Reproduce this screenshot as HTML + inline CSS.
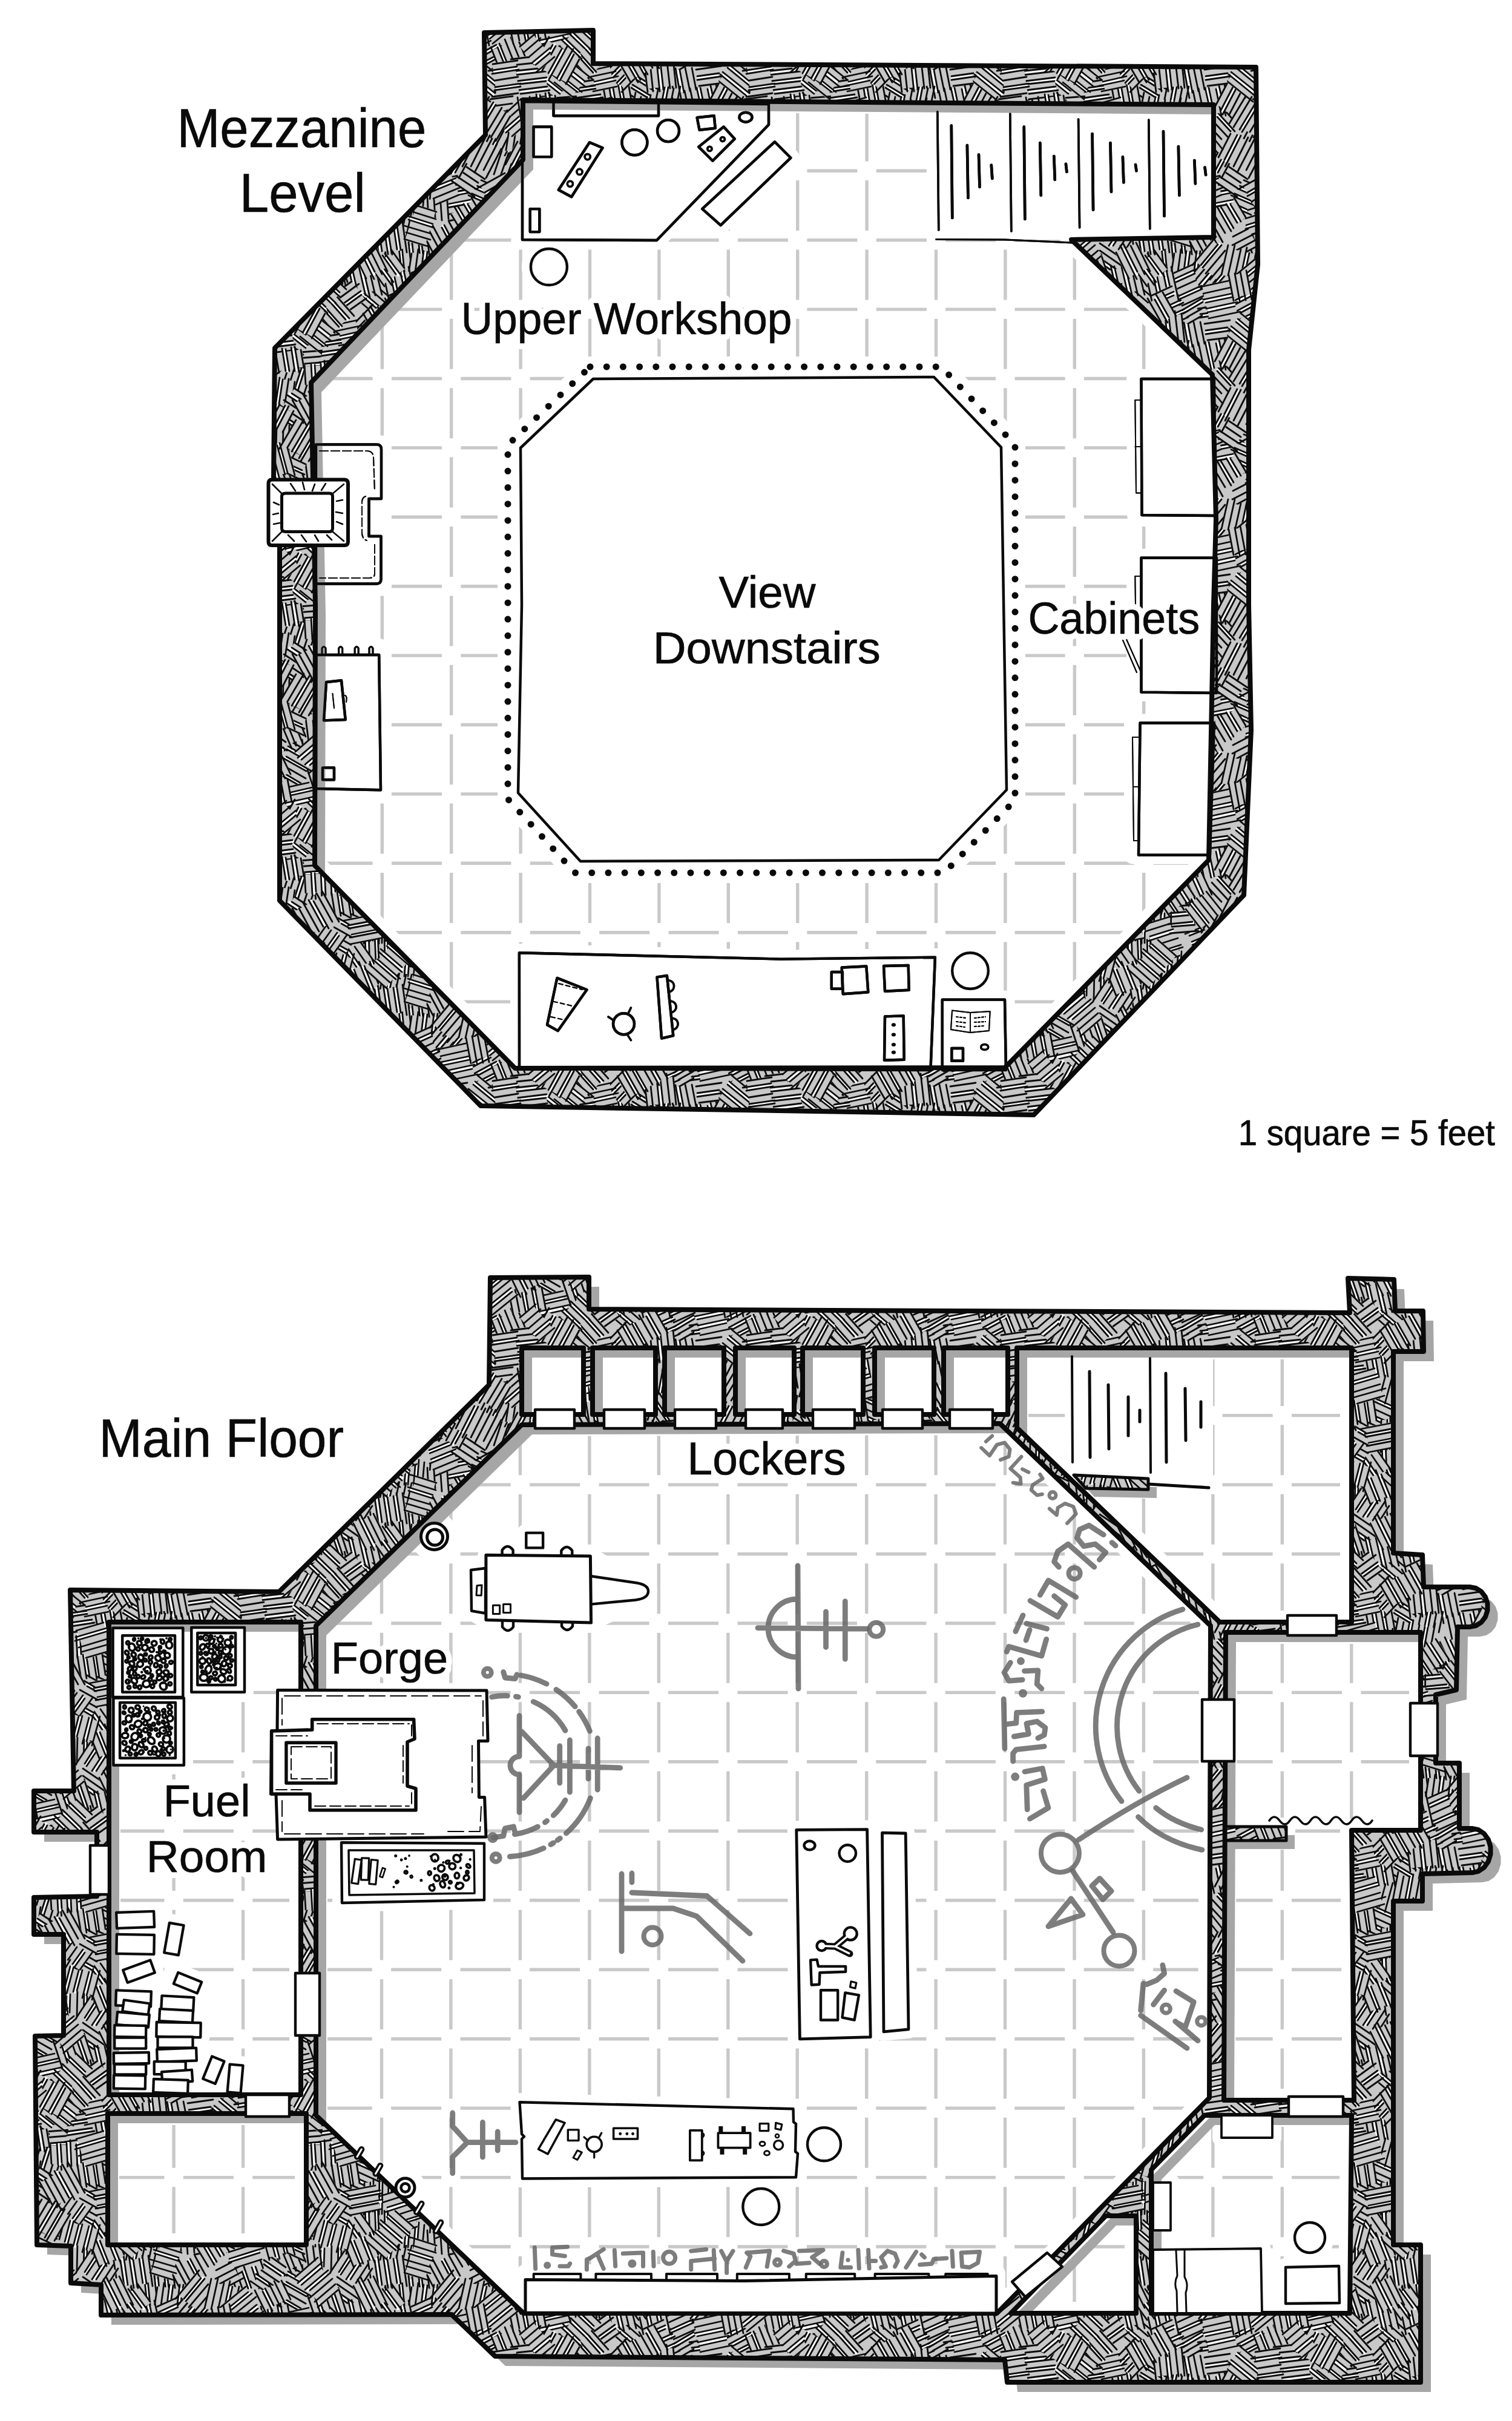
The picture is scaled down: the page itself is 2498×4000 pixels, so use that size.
<!DOCTYPE html><html><head><meta charset="utf-8"><title>Forge map</title><style>html,body{margin:0;padding:0;background:#fff}svg{display:block}text{font-family:"Liberation Sans", sans-serif;fill:#0a0a0a;stroke:#0a0a0a;stroke-width:.7px}text.h{paint-order:stroke}.f{fill:#fff;stroke:#0a0a0a;stroke-width:4.4;stroke-linejoin:round;stroke-linecap:round}.l{fill:none;stroke:#0a0a0a;stroke-width:3.5;stroke-linejoin:round;stroke-linecap:round}.t{fill:none;stroke:#0a0a0a;stroke-width:2;stroke-linejoin:round;stroke-linecap:round}.k{fill:#0a0a0a;stroke:none}.nf *{fill:none!important}.g{fill:none;stroke:#666;stroke-opacity:.85;stroke-width:8;stroke-linejoin:round;stroke-linecap:round}.halo{fill:#fff;stroke:#fff;stroke-width:30;stroke-linejoin:round}</style></head><body>
<svg width="2498" height="4000" viewBox="0 0 2498 4000">
<rect width="2498" height="4000" fill="#fff"/>
<defs>
<pattern id="hatch" width="420" height="420" patternUnits="userSpaceOnUse"><rect width="420" height="420" fill="#c8c8c8"/><g fill="none"><polygon points="109,197 73,199 68,134 104,132" fill="#c8c8c8"/><path d="M110 181l-38 3M104 146l-38 3" stroke="#fff" stroke-width="4.0"/><path d="M110 195l-42 3M115 184l-44 3M109 179l-37 3M109 169l-37 3M115 159l-53 4M110 148l-47 3M106 143l-43 3M103 133l-43 3" stroke="#0c0c0c" stroke-width="2.8" stroke-linecap="round"/><polygon points="196,46 229,74 203,104 170,76" fill="#c8c8c8"/><path d="M176 63l39 33" stroke="#fff" stroke-width="4.0"/><path d="M189 42l43 36M182 50l45 39M175 59l41 35M178 69l33 28M172 76l35 30" stroke="#0c0c0c" stroke-width="2.8" stroke-linecap="round"/><polygon points="112,204 100,244 43,226 55,186" fill="#c8c8c8"/><path d="M81 190l-14 45" stroke="#fff" stroke-width="4.0"/><path d="M114 196l-17 53M102 202l-15 47M94 194l-16 51M83 191l-13 41M78 188l-17 53M67 186l-15 48M57 185l-13 42" stroke="#0c0c0c" stroke-width="2.8" stroke-linecap="round"/><polygon points="183,201 220,218 197,269 160,252" fill="#c8c8c8"/><path d="M177 215l39 18M164 239l42 19" stroke="#fff" stroke-width="4.0"/><path d="M178 201l50 22M171 210l49 22M169 215l49 22M166 226l44 20M168 238l42 19M163 242l42 19M160 250l38 17" stroke="#0c0c0c" stroke-width="2.8" stroke-linecap="round"/><polygon points="350,173 372,196 336,230 314,206" fill="#c8c8c8"/><path d="M331 189l23 25" stroke="#fff" stroke-width="4.0"/><path d="M347 171l26 29M342 181l21 23M328 182l32 35M331 193l22 24M322 198l27 29M312 202l26 28" stroke="#0c0c0c" stroke-width="2.8" stroke-linecap="round"/><polygon points="26,235 6,273 -53,242 -34,205" fill="#c8c8c8"/><path d="M12 229l-21 41M-10 214l-22 43" stroke="#fff" stroke-width="4.0"/><path d="M25 233l-20 39M17 224l-22 43M11 224l-22 43M1 223l-19 38M-7 214l-22 42M-10 208l-22 43M-23 208l-20 40M-31 202l-25 48" stroke="#0c0c0c" stroke-width="2.8" stroke-linecap="round"/><polygon points="446,235 426,273 367,242 386,205" fill="#c8c8c8"/><path d="M432 229l-21 41M410 214l-22 43" stroke="#fff" stroke-width="4.0"/><path d="M445 233l-20 39M437 224l-22 43M431 224l-22 43M421 223l-19 38M413 214l-22 42M410 208l-22 43M397 208l-20 40M389 202l-25 48" stroke="#0c0c0c" stroke-width="2.8" stroke-linecap="round"/><polygon points="324,-53 341,-21 297,3 280,-29" fill="#c8c8c8"/><path d="M311 -48l20 37" stroke="#fff" stroke-width="4.0"/><path d="M322 -53l18 33M314 -48l21 40M310 -44l16 30M295 -47l24 45M289 -39l20 37M280 -31l20 37" stroke="#0c0c0c" stroke-width="2.8" stroke-linecap="round"/><polygon points="324,367 341,399 297,423 280,391" fill="#c8c8c8"/><path d="M311 372l20 37" stroke="#fff" stroke-width="4.0"/><path d="M322 367l18 33M314 372l21 40M310 376l16 30M295 373l24 45M289 381l20 37M280 389l20 37" stroke="#0c0c0c" stroke-width="2.8" stroke-linecap="round"/><polygon points="224,117 249,133 219,180 194,165" fill="#c8c8c8"/><path d="M213 129l29 18M206 144l27 17" stroke="#fff" stroke-width="4.0"/><path d="M220 116l29 18M216 128l32 20M212 132l27 17M205 140l28 17M203 145l31 19M197 154l30 19M196 164l25 16" stroke="#0c0c0c" stroke-width="2.8" stroke-linecap="round"/><polygon points="168,203 175,247 105,258 98,214" fill="#c8c8c8"/><path d="M154 201l7 48M138 203l7 48M113 210l7 47" stroke="#fff" stroke-width="4.0"/><path d="M167 201l7 45M156 198l8 54M152 204l8 50M141 205l7 46M135 200l8 53M126 205l8 49M116 212l7 48M111 213l7 48M100 214l8 51" stroke="#0c0c0c" stroke-width="2.8" stroke-linecap="round"/><polygon points="81,94 109,117 63,174 36,152" fill="#c8c8c8"/><path d="M73 106l29 23M52 125l34 27M41 138l31 24" stroke="#fff" stroke-width="4.0"/><path d="M79 94l32 26M74 104l27 21M72 109l32 25M63 116l32 25M58 126l29 23M51 128l34 27M45 137l36 29M44 144l26 21M32 148l38 30" stroke="#0c0c0c" stroke-width="2.8" stroke-linecap="round"/><polygon points="276,352 269,389 206,375 214,339" fill="#c8c8c8"/><path d="M264 346l-8 41M228 340l-8 39" stroke="#fff" stroke-width="4.0"/><path d="M275 352l-7 35M267 347l-9 43M261 346l-10 46M253 340l-10 48M242 337l-10 48M231 342l-8 36M225 341l-8 40M215 340l-9 44" stroke="#0c0c0c" stroke-width="2.8" stroke-linecap="round"/><polygon points="293,319 290,352 236,347 239,314" fill="#c8c8c8"/><path d="M269 312l-3 41M254 313l-3 36" stroke="#fff" stroke-width="4.0"/><path d="M291 319l-3 41M281 316l-3 34M272 312l-3 41M267 310l-4 47M257 315l-3 38M251 317l-3 36M241 308l-4 46" stroke="#0c0c0c" stroke-width="2.8" stroke-linecap="round"/><polygon points="288,-14 293,30 220,38 215,-7" fill="#c8c8c8"/><path d="M275 -12l5 44M259 -14l5 48M242 -13l5 49" stroke="#fff" stroke-width="4.0"/><path d="M287 -19l6 55M277 -16l5 49M272 -16l5 52M261 -18l5 50M255 -20l6 55M244 -13l5 51M239 -11l6 55M227 -13l5 51M216 -10l5 48" stroke="#0c0c0c" stroke-width="2.8" stroke-linecap="round"/><polygon points="288,406 293,450 220,458 215,413" fill="#c8c8c8"/><path d="M275 408l5 44M259 406l5 48M242 407l5 49" stroke="#fff" stroke-width="4.0"/><path d="M287 401l6 55M277 404l5 49M272 404l5 52M261 402l5 50M255 400l6 55M244 407l5 51M239 409l6 55M227 407l5 51M216 410l5 48" stroke="#0c0c0c" stroke-width="2.8" stroke-linecap="round"/><polygon points="328,7 324,38 255,29 259,-3" fill="#c8c8c8"/><path d="M314 4l-5 35M299 0l-5 37M283 -4l-5 38" stroke="#fff" stroke-width="4.0"/><path d="M327 3l-5 40M316 5l-4 31M312 -1l-6 43M303 -5l-6 41M297 -5l-5 40M286 -4l-6 44M280 -5l-5 40M271 -8l-5 37M260 -1l-5 33" stroke="#0c0c0c" stroke-width="2.8" stroke-linecap="round"/><polygon points="328,427 324,458 255,449 259,417" fill="#c8c8c8"/><path d="M314 424l-5 35M299 420l-5 37M283 416l-5 38" stroke="#fff" stroke-width="4.0"/><path d="M327 423l-5 40M316 425l-4 31M312 419l-6 43M303 415l-6 41M297 415l-5 40M286 416l-6 44M280 415l-5 40M271 412l-5 37M260 419l-5 33" stroke="#0c0c0c" stroke-width="2.8" stroke-linecap="round"/><polygon points="144,-15 180,10 158,43 121,17" fill="#c8c8c8"/><path d="M129 4l37 26" stroke="#fff" stroke-width="4.0"/><path d="M137 -18l44 30M137 -6l36 25M125 -2l48 33M122 3l46 32M122 16l35 24" stroke="#0c0c0c" stroke-width="2.8" stroke-linecap="round"/><polygon points="144,405 180,430 158,463 121,437" fill="#c8c8c8"/><path d="M129 424l37 26" stroke="#fff" stroke-width="4.0"/><path d="M137 402l44 30M137 414l36 25M125 418l48 33M122 423l46 32M122 436l35 24" stroke="#0c0c0c" stroke-width="2.8" stroke-linecap="round"/><polygon points="198,132 205,171 161,179 154,139" fill="#c8c8c8"/><path d="M183 135l8 42M168 134l8 46" stroke="#fff" stroke-width="4.0"/><path d="M197 132l8 45M185 128l8 47M179 127l9 49M170 129l8 46M165 135l7 41M155 135l9 49" stroke="#0c0c0c" stroke-width="2.8" stroke-linecap="round"/><polygon points="232,283 234,329 173,331 171,285" fill="#c8c8c8"/><path d="M218 284l2 50M201 284l2 48M186 281l2 53" stroke="#fff" stroke-width="4.0"/><path d="M231 275l2 60M220 284l2 54M215 284l1 44M204 275l2 60M199 283l2 47M189 281l2 57M183 285l2 54M172 279l2 50" stroke="#0c0c0c" stroke-width="2.8" stroke-linecap="round"/><polygon points="315,98 286,115 260,70 289,53" fill="#c8c8c8"/><path d="M306 76l-32 19M298 63l-35 20" stroke="#fff" stroke-width="4.0"/><path d="M319 94l-40 23M311 87l-30 17M307 79l-37 22M306 73l-37 22M302 64l-37 22M297 61l-31 18M295 51l-40 24" stroke="#0c0c0c" stroke-width="2.8" stroke-linecap="round"/><polygon points="200,16 210,58 154,71 144,29" fill="#c8c8c8"/><path d="M176 22l10 42M160 25l10 43" stroke="#fff" stroke-width="4.0"/><path d="M198 14l13 53M188 17l12 51M178 15l13 56M173 21l11 47M161 20l12 52M155 19l13 57M144 22l13 55" stroke="#0c0c0c" stroke-width="2.8" stroke-linecap="round"/><polygon points="200,436 210,478 154,491 144,449" fill="#c8c8c8"/><path d="M176 442l10 42M160 445l10 43" stroke="#fff" stroke-width="4.0"/><path d="M198 434l13 53M188 437l12 51M178 435l13 56M173 441l11 47M161 440l12 52M155 439l13 57M144 442l13 55" stroke="#0c0c0c" stroke-width="2.8" stroke-linecap="round"/><polygon points="157,358 156,387 99,386 100,356" fill="#c8c8c8"/><path d="M141 353l-1 36M113 354l-1 33" stroke="#fff" stroke-width="4.0"/><path d="M156 356l-1 35M144 359l-1 29M139 352l-1 38M128 348l-1 43M116 355l-1 30M110 358l-1 33M101 349l-1 35" stroke="#0c0c0c" stroke-width="2.8" stroke-linecap="round"/><polygon points="353,43 322,79 280,43 310,7" fill="#c8c8c8"/><path d="M342 32l-32 37M331 19l-34 40" stroke="#fff" stroke-width="4.0"/><path d="M352 42l-31 37M348 30l-37 44M342 27l-33 39M333 22l-35 42M332 14l-41 48M318 15l-31 37M316 2l-34 41" stroke="#0c0c0c" stroke-width="2.8" stroke-linecap="round"/><polygon points="353,463 322,499 280,463 310,427" fill="#c8c8c8"/><path d="M342 452l-32 37M331 439l-34 40" stroke="#fff" stroke-width="4.0"/><path d="M352 462l-31 37M348 450l-37 44M342 447l-33 39M333 442l-35 42M332 434l-41 48M318 435l-31 37M316 422l-34 41" stroke="#0c0c0c" stroke-width="2.8" stroke-linecap="round"/><polygon points="69,210 61,259 -5,249 2,200" fill="#c8c8c8"/><path d="M44 206l-7 49M27 204l-8 53" stroke="#fff" stroke-width="4.0"/><path d="M67 211l-7 49M57 206l-8 52M47 207l-8 53M42 204l-9 60M31 198l-9 60M25 202l-9 58M14 202l-8 56M3 202l-7 46" stroke="#0c0c0c" stroke-width="2.8" stroke-linecap="round"/><polygon points="489,210 481,259 415,249 422,200" fill="#c8c8c8"/><path d="M464 206l-7 49M447 204l-8 53" stroke="#fff" stroke-width="4.0"/><path d="M487 211l-7 49M477 206l-8 52M467 207l-8 53M462 204l-9 60M451 198l-9 60M445 202l-9 58M434 202l-8 56M423 202l-7 46" stroke="#0c0c0c" stroke-width="2.8" stroke-linecap="round"/><polygon points="13,374 -33,388 -48,338 -3,324" fill="#c8c8c8"/><path d="M8 359l-48 15" stroke="#fff" stroke-width="4.0"/><path d="M12 373l-53 17M9 362l-51 16M16 354l-57 18M6 346l-48 15M7 333l-55 17M-3 325l-45 14" stroke="#0c0c0c" stroke-width="2.8" stroke-linecap="round"/><polygon points="433,374 387,388 372,338 417,324" fill="#c8c8c8"/><path d="M428 359l-48 15" stroke="#fff" stroke-width="4.0"/><path d="M432 373l-53 17M429 362l-51 16M436 354l-57 18M426 346l-48 15M427 333l-55 17M417 325l-45 14" stroke="#0c0c0c" stroke-width="2.8" stroke-linecap="round"/><polygon points="247,-51 253,-10 193,-1 187,-42" fill="#c8c8c8"/><path d="M233 -48l6 42M217 -47l6 41M202 -49l7 44" stroke="#fff" stroke-width="4.0"/><path d="M245 -53l7 50M235 -53l7 46M230 -48l6 40M220 -46l7 45M213 -53l8 53M204 -54l7 49M199 -45l6 41M187 -51l8 53" stroke="#0c0c0c" stroke-width="2.8" stroke-linecap="round"/><polygon points="247,369 253,410 193,419 187,378" fill="#c8c8c8"/><path d="M233 372l6 42M217 373l6 41M202 371l7 44" stroke="#fff" stroke-width="4.0"/><path d="M245 367l7 50M235 367l7 46M230 372l6 40M220 374l7 45M213 367l8 53M204 366l7 49M199 375l6 41M187 369l8 53" stroke="#0c0c0c" stroke-width="2.8" stroke-linecap="round"/><polygon points="184,76 155,97 131,65 161,43" fill="#c8c8c8"/><path d="M179 62l-36 26" stroke="#fff" stroke-width="4.0"/><path d="M185 73l-34 24M177 67l-36 26M176 61l-36 26M173 49l-41 30M161 45l-35 25" stroke="#0c0c0c" stroke-width="2.8" stroke-linecap="round"/><polygon points="370,294 399,307 374,362 346,350" fill="#c8c8c8"/><path d="M361 307l34 15M355 320l32 14M352 336l28 13" stroke="#fff" stroke-width="4.0"/><path d="M367 294l33 15M357 302l42 19M361 310l32 14M351 316l39 17M350 321l44 19M345 330l35 16M350 338l37 17M342 347l32 14" stroke="#0c0c0c" stroke-width="2.8" stroke-linecap="round"/><polygon points="194,-27 178,-2 129,-33 146,-58" fill="#c8c8c8"/><path d="M174 -43l-19 30M159 -50l-18 27" stroke="#fff" stroke-width="4.0"/><path d="M195 -32l-23 36M188 -39l-20 31M177 -42l-18 28M171 -43l-19 29M161 -49l-18 27M159 -56l-19 30M149 -61l-23 35" stroke="#0c0c0c" stroke-width="2.8" stroke-linecap="round"/><polygon points="194,393 178,418 129,387 146,362" fill="#c8c8c8"/><path d="M174 377l-19 30M159 370l-18 27" stroke="#fff" stroke-width="4.0"/><path d="M195 388l-23 36M188 381l-20 31M177 378l-18 28M171 377l-19 29M161 371l-18 27M159 364l-19 30M149 359l-23 35" stroke="#0c0c0c" stroke-width="2.8" stroke-linecap="round"/><polygon points="67,221 104,245 67,301 30,277" fill="#c8c8c8"/><path d="M57 230l43 28M36 263l39 26" stroke="#fff" stroke-width="4.0"/><path d="M67 222l41 27M62 230l36 23M55 233l43 28M49 241l43 28M43 250l42 28M35 258l47 31M34 264l42 28M28 274l40 27" stroke="#0c0c0c" stroke-width="2.8" stroke-linecap="round"/><polygon points="109,-68 115,-22 70,-16 64,-62" fill="#c8c8c8"/><path d="M107 -72l7 57M97 -69l7 56M85 -73l8 63M75 -68l7 52M65 -63l6 48" stroke="#0c0c0c" stroke-width="2.8" stroke-linecap="round"/><polygon points="109,352 115,398 70,404 64,358" fill="#c8c8c8"/><path d="M107 348l7 57M97 351l7 56M85 347l8 63M75 352l7 52M65 357l6 48" stroke="#0c0c0c" stroke-width="2.8" stroke-linecap="round"/><polygon points="176,295 197,326 150,359 129,328" fill="#c8c8c8"/><path d="M151 307l26 38M140 320l23 32" stroke="#fff" stroke-width="4.0"/><path d="M173 293l24 34M166 304l24 35M153 304l26 38M147 306l25 36M140 316l26 37M133 315l27 38M127 323l28 40" stroke="#0c0c0c" stroke-width="2.8" stroke-linecap="round"/><polygon points="14,-39 24,-10 -29,9 -39,-20" fill="#c8c8c8"/><path d="M-2 -36l12 35M-17 -28l11 30" stroke="#fff" stroke-width="4.0"/><path d="M10 -46l14 41M2 -35l13 36M-4 -34l12 35M-17 -35l12 35M-20 -27l10 28M-31 -32l13 38M-39 -24l11 32" stroke="#0c0c0c" stroke-width="2.8" stroke-linecap="round"/><polygon points="14,381 24,410 -29,429 -39,400" fill="#c8c8c8"/><path d="M-2 384l12 35M-17 392l11 30" stroke="#fff" stroke-width="4.0"/><path d="M10 374l14 41M2 385l13 36M-4 386l12 35M-17 385l12 35M-20 393l10 28M-31 388l13 38M-39 396l11 32" stroke="#0c0c0c" stroke-width="2.8" stroke-linecap="round"/><polygon points="434,-39 444,-10 391,9 381,-20" fill="#c8c8c8"/><path d="M418 -36l12 35M403 -28l11 30" stroke="#fff" stroke-width="4.0"/><path d="M430 -46l14 41M422 -35l13 36M416 -34l12 35M403 -35l12 35M400 -27l10 28M389 -32l13 38M381 -24l11 32" stroke="#0c0c0c" stroke-width="2.8" stroke-linecap="round"/><polygon points="434,381 444,410 391,429 381,400" fill="#c8c8c8"/><path d="M418 384l12 35M403 392l11 30" stroke="#fff" stroke-width="4.0"/><path d="M430 374l14 41M422 385l13 36M416 386l12 35M403 385l12 35M400 393l10 28M389 388l13 38M381 396l11 32" stroke="#0c0c0c" stroke-width="2.8" stroke-linecap="round"/><polygon points="361,8 332,43 294,11 322,-24" fill="#c8c8c8"/><path d="M336 -18l-32 38" stroke="#fff" stroke-width="4.0"/><path d="M361 6l-35 42M355 -1l-36 43M344 -6l-32 38M338 -15l-31 37M332 -16l-28 34M329 -29l-39 47" stroke="#0c0c0c" stroke-width="2.8" stroke-linecap="round"/><polygon points="361,428 332,463 294,431 322,396" fill="#c8c8c8"/><path d="M336 402l-32 38" stroke="#fff" stroke-width="4.0"/><path d="M361 426l-35 42M355 419l-36 43M344 414l-32 38M338 405l-31 37M332 404l-28 34M329 391l-39 47" stroke="#0c0c0c" stroke-width="2.8" stroke-linecap="round"/><polygon points="226,184 216,220 177,209 187,174" fill="#c8c8c8"/><path d="M213 177l-11 40" stroke="#fff" stroke-width="4.0"/><path d="M225 182l-10 37M216 177l-11 41M211 174l-12 42M201 171l-13 48M189 173l-10 37" stroke="#0c0c0c" stroke-width="2.8" stroke-linecap="round"/><polygon points="9,183 -20,187 -25,151 4,147" fill="#c8c8c8"/><path d="M14 181l-42 6M6 171l-36 5M7 159l-37 5M12 147l-36 5" stroke="#0c0c0c" stroke-width="2.8" stroke-linecap="round"/><polygon points="429,183 400,187 395,151 424,147" fill="#c8c8c8"/><path d="M434 181l-42 6M426 171l-36 5M427 159l-37 5M432 147l-36 5" stroke="#0c0c0c" stroke-width="2.8" stroke-linecap="round"/><polygon points="360,359 321,366 307,294 346,287" fill="#c8c8c8"/><path d="M358 333l-43 8M356 316l-48 9M351 300l-43 8" stroke="#fff" stroke-width="4.0"/><path d="M364 357l-43 8M360 347l-49 9M358 336l-44 8M357 330l-46 9M357 318l-50 10M359 312l-48 9M352 302l-51 10M351 297l-46 9M347 288l-40 8" stroke="#0c0c0c" stroke-width="2.8" stroke-linecap="round"/><polygon points="-4,104 -37,121 -65,67 -33,50" fill="#c8c8c8"/><path d="M-11 90l-34 18M-17 75l-36 19M-23 61l-39 20" stroke="#fff" stroke-width="4.0"/><path d="M-4 102l-37 19M-3 88l-43 23M-9 86l-43 22M-12 76l-37 20M-20 74l-37 20M-25 65l-40 21M-28 60l-31 16M-34 52l-38 20" stroke="#0c0c0c" stroke-width="2.8" stroke-linecap="round"/><polygon points="416,104 383,121 355,67 387,50" fill="#c8c8c8"/><path d="M409 90l-34 18M403 75l-36 19M397 61l-39 20" stroke="#fff" stroke-width="4.0"/><path d="M416 102l-37 19M417 88l-43 23M411 86l-43 22M408 76l-37 20M400 74l-37 20M395 65l-40 21M392 60l-31 16M386 52l-38 20" stroke="#0c0c0c" stroke-width="2.8" stroke-linecap="round"/><polygon points="44,194 8,226 -19,196 18,164" fill="#c8c8c8"/><path d="M36 180l-42 37" stroke="#fff" stroke-width="4.0"/><path d="M44 192l-38 33M38 182l-42 37M33 179l-38 33M29 170l-45 39M22 163l-40 36" stroke="#0c0c0c" stroke-width="2.8" stroke-linecap="round"/><polygon points="464,194 428,226 401,196 438,164" fill="#c8c8c8"/><path d="M456 180l-42 37" stroke="#fff" stroke-width="4.0"/><path d="M464 192l-38 33M458 182l-42 37M453 179l-38 33M449 170l-45 39M442 163l-40 36" stroke="#0c0c0c" stroke-width="2.8" stroke-linecap="round"/><polygon points="66,-33 100,-14 66,46 32,26" fill="#c8c8c8"/><path d="M55 -24l42 24M50 -9l40 23M36 13l39 22" stroke="#fff" stroke-width="4.0"/><path d="M64 -33l40 23M56 -27l39 22M54 -22l37 21M53 -10l40 23M45 -9l41 23M38 -1l47 27M38 11l39 23M38 17l37 21M26 21l42 24" stroke="#0c0c0c" stroke-width="2.8" stroke-linecap="round"/><polygon points="66,387 100,406 66,466 32,446" fill="#c8c8c8"/><path d="M55 396l42 24M50 411l40 23M36 433l39 22" stroke="#fff" stroke-width="4.0"/><path d="M64 387l40 23M56 393l39 22M54 398l37 21M53 410l40 23M45 411l41 23M38 419l47 27M38 431l39 23M38 437l37 21M26 441l42 24" stroke="#0c0c0c" stroke-width="2.8" stroke-linecap="round"/><polygon points="152,185 118,190 109,135 144,130" fill="#c8c8c8"/><path d="M151 159l-39 6M146 144l-34 5" stroke="#fff" stroke-width="4.0"/><path d="M157 183l-43 7M157 171l-50 8M156 161l-45 7M152 156l-42 6M153 145l-44 7M146 141l-42 6M148 131l-44 7" stroke="#0c0c0c" stroke-width="2.8" stroke-linecap="round"/><polygon points="19,267 8,300 -35,285 -24,252" fill="#c8c8c8"/><path d="M17 267l-13 39M10 256l-14 40M-0 253l-16 46M-11 249l-13 39M-21 246l-13 40" stroke="#0c0c0c" stroke-width="2.8" stroke-linecap="round"/><polygon points="439,267 428,300 385,285 396,252" fill="#c8c8c8"/><path d="M437 267l-13 39M430 256l-14 40M420 253l-16 46M409 249l-13 39M399 246l-13 40" stroke="#0c0c0c" stroke-width="2.8" stroke-linecap="round"/><polygon points="102,89 65,98 51,40 89,32" fill="#c8c8c8"/><path d="M101 76l-39 9M97 60l-43 10M91 45l-40 9" stroke="#fff" stroke-width="4.0"/><path d="M103 88l-39 9M104 78l-45 10M105 72l-48 11M102 62l-52 12M100 56l-50 11M101 45l-49 11M100 40l-52 12M90 33l-45 10" stroke="#0c0c0c" stroke-width="2.8" stroke-linecap="round"/><polygon points="308,70 276,85 253,33 285,18" fill="#c8c8c8"/><path d="M302 56l-32 15M292 29l-34 15" stroke="#fff" stroke-width="4.0"/><path d="M308 69l-35 16M307 57l-40 18M305 52l-44 20M296 43l-33 15M294 32l-33 15M295 25l-37 17M293 16l-40 18" stroke="#0c0c0c" stroke-width="2.8" stroke-linecap="round"/><polygon points="305,114 312,149 272,156 265,122" fill="#c8c8c8"/><path d="M280 115l7 37" stroke="#fff" stroke-width="4.0"/><path d="M303 112l7 36M292 112l8 39M283 116l7 37M276 113l9 49M266 115l9 49" stroke="#0c0c0c" stroke-width="2.8" stroke-linecap="round"/><polygon points="69,288 68,327 19,326 20,287" fill="#c8c8c8"/><path d="M34 286l-1 45" stroke="#fff" stroke-width="4.0"/><path d="M68 282l-1 49M58 283l-1 42M48 289l-1 38M37 284l-1 44M32 285l-1 45M22 283l-1 50" stroke="#0c0c0c" stroke-width="2.8" stroke-linecap="round"/><polygon points="345,142 354,183 299,194 290,154" fill="#c8c8c8"/><path d="M331 145l9 41M314 146l9 43" stroke="#fff" stroke-width="4.0"/><path d="M343 140l9 43M334 142l11 49M329 147l9 44M317 145l9 43M311 145l10 45M300 146l10 48M291 150l9 43" stroke="#0c0c0c" stroke-width="2.8" stroke-linecap="round"/><polygon points="223,117 193,148 161,117 191,86" fill="#c8c8c8"/><path d="M215 103l-34 36M203 94l-32 34" stroke="#fff" stroke-width="4.0"/><path d="M225 113l-38 39M219 102l-35 37M214 100l-35 37M205 95l-35 36M198 94l-29 30M196 83l-40 41" stroke="#0c0c0c" stroke-width="2.8" stroke-linecap="round"/><polygon points="143,182 145,212 83,216 82,185" fill="#c8c8c8"/><path d="M129 179l2 37M113 179l2 38M97 181l2 37" stroke="#fff" stroke-width="4.0"/><path d="M141 176l2 44M132 178l2 35M126 183l2 36M116 176l2 43M110 181l2 40M100 183l2 30M94 181l2 36M83 182l2 33" stroke="#0c0c0c" stroke-width="2.8" stroke-linecap="round"/><polygon points="185,208 142,221 127,173 171,160" fill="#c8c8c8"/><path d="M177 173l-46 13" stroke="#fff" stroke-width="4.0"/><path d="M187 206l-45 13M189 194l-53 15M180 187l-50 15M178 175l-54 16M176 170l-51 15M171 161l-45 13" stroke="#0c0c0c" stroke-width="2.8" stroke-linecap="round"/><polygon points="150,250 179,267 145,325 117,309" fill="#c8c8c8"/><path d="M143 262l32 18M124 296l29 17" stroke="#fff" stroke-width="4.0"/><path d="M142 247l43 24M139 257l34 20M144 266l34 19M132 272l34 19M130 284l30 17M121 291l36 20M121 297l31 18M118 308l33 19" stroke="#0c0c0c" stroke-width="2.8" stroke-linecap="round"/><polygon points="17,65 29,93 -17,111 -28,83" fill="#c8c8c8"/><path d="M-16 76l12 31" stroke="#fff" stroke-width="4.0"/><path d="M15 63l12 29M4 62l15 37M-6 65l14 35M-15 72l14 35M-18 78l14 35M-29 78l14 36" stroke="#0c0c0c" stroke-width="2.8" stroke-linecap="round"/><polygon points="437,65 449,93 403,111 392,83" fill="#c8c8c8"/><path d="M404 76l12 31" stroke="#fff" stroke-width="4.0"/><path d="M435 63l12 29M424 62l15 37M414 65l14 35M405 72l14 35M402 78l14 35M391 78l14 36" stroke="#0c0c0c" stroke-width="2.8" stroke-linecap="round"/><polygon points="208,323 223,360 162,384 148,347" fill="#c8c8c8"/><path d="M194 329l14 36M179 336l15 37M162 340l15 38" stroke="#fff" stroke-width="4.0"/><path d="M206 321l16 41M195 325l15 39M191 329l14 36M182 336l17 42M173 329l18 45M165 342l15 38M157 337l19 47M147 342l17 43" stroke="#0c0c0c" stroke-width="2.8" stroke-linecap="round"/><polygon points="384,152 363,191 328,172 348,134" fill="#c8c8c8"/><path d="M362 141l-22 42" stroke="#fff" stroke-width="4.0"/><path d="M385 146l-24 47M376 141l-25 48M365 141l-25 48M360 138l-23 44M353 127l-26 50" stroke="#0c0c0c" stroke-width="2.8" stroke-linecap="round"/><polygon points="398,-13 372,1 356,-30 382,-43" fill="#c8c8c8"/><path d="M402 -16l-32 17M399 -26l-39 21M395 -35l-39 20M382 -42l-25 13" stroke="#0c0c0c" stroke-width="2.8" stroke-linecap="round"/><polygon points="398,407 372,421 356,390 382,377" fill="#c8c8c8"/><path d="M402 404l-32 17M399 394l-39 21M395 385l-39 20M382 378l-25 13" stroke="#0c0c0c" stroke-width="2.8" stroke-linecap="round"/><polygon points="175,145 146,151 138,115 167,108" fill="#c8c8c8"/><path d="M173 131l-32 7" stroke="#fff" stroke-width="4.0"/><path d="M179 143l-39 8M177 133l-42 9M181 126l-39 9M177 118l-42 9M170 109l-32 7" stroke="#0c0c0c" stroke-width="2.8" stroke-linecap="round"/><polygon points="320,328 322,358 287,360 285,330" fill="#c8c8c8"/><path d="M318 319l3 43M307 322l3 42M297 330l2 29M286 325l2 38" stroke="#0c0c0c" stroke-width="2.8" stroke-linecap="round"/><polygon points="150,291 133,316 79,278 97,253" fill="#c8c8c8"/><path d="M139 283l-18 25M111 258l-21 30" stroke="#fff" stroke-width="4.0"/><path d="M153 285l-25 35M140 286l-17 24M137 281l-17 24M127 277l-19 27M122 265l-24 34M112 261l-20 29M109 256l-22 31M98 254l-17 25" stroke="#0c0c0c" stroke-width="2.8" stroke-linecap="round"/><polygon points="141,1 154,41 102,58 89,18" fill="#c8c8c8"/><path d="M127 3l14 42M103 13l15 44" stroke="#fff" stroke-width="4.0"/><path d="M139 0l15 46M128 -4l18 53M125 5l15 43M114 1l19 56M104 8l15 45M98 8l16 48M88 12l16 48" stroke="#0c0c0c" stroke-width="2.8" stroke-linecap="round"/><polygon points="141,421 154,461 102,478 89,438" fill="#c8c8c8"/><path d="M127 423l14 42M103 433l15 44" stroke="#fff" stroke-width="4.0"/><path d="M139 420l15 46M128 416l18 53M125 425l15 43M114 421l19 56M104 428l15 45M98 428l16 48M88 432l16 48" stroke="#0c0c0c" stroke-width="2.8" stroke-linecap="round"/><polygon points="-45,100 -8,130 -36,165 -74,135" fill="#c8c8c8"/><path d="M-57 108l40 33M-66 123l42 34" stroke="#fff" stroke-width="4.0"/><path d="M-51 97l44 36M-55 107l41 34M-58 112l38 31M-66 119l44 35M-70 123l43 35M-74 133l44 35" stroke="#0c0c0c" stroke-width="2.8" stroke-linecap="round"/><polygon points="375,100 412,130 384,165 346,135" fill="#c8c8c8"/><path d="M363 108l40 33M354 123l42 34" stroke="#fff" stroke-width="4.0"/><path d="M369 97l44 36M365 107l41 34M362 112l38 31M354 119l44 35M350 123l43 35M346 133l44 35" stroke="#0c0c0c" stroke-width="2.8" stroke-linecap="round"/><polygon points="73,343 87,378 36,398 22,364" fill="#c8c8c8"/><path d="M71 342l14 35M61 342l19 46M52 349l17 43M41 347l21 50M32 356l18 44M23 363l16 39" stroke="#0c0c0c" stroke-width="2.8" stroke-linecap="round"/><polygon points="66,160 21,165 13,95 58,90" fill="#c8c8c8"/><path d="M65 146l-45 5M66 130l-49 6M65 115l-51 6" stroke="#fff" stroke-width="4.0"/><path d="M72 158l-52 6M68 149l-48 6M64 143l-48 6M62 134l-45 5M63 128l-49 6M69 117l-60 7M60 112l-47 5M61 102l-47 5M61 91l-57 7" stroke="#0c0c0c" stroke-width="2.8" stroke-linecap="round"/><polygon points="486,160 441,165 433,95 478,90" fill="#c8c8c8"/><path d="M485 146l-45 5M486 130l-49 6M485 115l-51 6" stroke="#fff" stroke-width="4.0"/><path d="M492 158l-52 6M488 149l-48 6M484 143l-48 6M482 134l-45 5M483 128l-49 6M489 117l-60 7M480 112l-47 5M481 102l-47 5M481 91l-57 7" stroke="#0c0c0c" stroke-width="2.8" stroke-linecap="round"/><polygon points="256,247 255,292 180,291 181,246" fill="#c8c8c8"/><path d="M241 247l-1 45M224 244l-1 47M209 245l-1 45M194 245l-1 46" stroke="#fff" stroke-width="4.0"/><path d="M255 243l-1 49M244 249l-1 42M238 247l-1 53M227 243l-1 51M222 240l-1 58M212 245l-1 53M207 240l-1 59M197 240l-1 54M192 246l-1 49M182 247l-1 52" stroke="#0c0c0c" stroke-width="2.8" stroke-linecap="round"/><polygon points="339,323 308,336 280,268 312,255" fill="#c8c8c8"/><path d="M333 297l-39 16M323 285l-35 14M319 269l-33 14" stroke="#fff" stroke-width="4.0"/><path d="M338 322l-38 16M342 309l-46 19M329 302l-39 16M334 294l-42 17M323 288l-33 13M325 281l-36 15M325 270l-40 16M318 267l-40 16M312 257l-32 13" stroke="#0c0c0c" stroke-width="2.8" stroke-linecap="round"/><polygon points="308,185 321,214 279,233 266,204" fill="#c8c8c8"/><path d="M292 189l16 35M278 197l14 31" stroke="#fff" stroke-width="4.0"/><path d="M305 181l17 37M296 190l15 33M287 185l20 44M279 193l15 32M275 197l17 36M267 205l13 29" stroke="#0c0c0c" stroke-width="2.8" stroke-linecap="round"/><polygon points="141,3 111,29 68,-20 99,-46" fill="#c8c8c8"/><path d="M119 -23l-32 28M110 -36l-35 30" stroke="#fff" stroke-width="4.0"/><path d="M139 3l-34 29M134 -6l-34 29M129 -15l-39 33M126 -25l-34 29M122 -29l-38 32M111 -33l-33 28M112 -42l-40 34M105 -50l-37 32" stroke="#0c0c0c" stroke-width="2.8" stroke-linecap="round"/><polygon points="141,423 111,449 68,400 99,374" fill="#c8c8c8"/><path d="M119 397l-32 28M110 384l-35 30" stroke="#fff" stroke-width="4.0"/><path d="M139 423l-34 29M134 414l-34 29M129 405l-39 33M126 395l-34 29M122 391l-38 32M111 387l-33 28M112 378l-40 34M105 370l-37 32" stroke="#0c0c0c" stroke-width="2.8" stroke-linecap="round"/><polygon points="348,139 313,144 306,87 341,82" fill="#c8c8c8"/><path d="M347 124l-36 5M345 96l-38 5" stroke="#fff" stroke-width="4.0"/><path d="M347 138l-32 4M353 126l-41 6M348 121l-36 5M352 109l-42 6M343 99l-43 6M341 94l-38 5M347 83l-48 7" stroke="#0c0c0c" stroke-width="2.8" stroke-linecap="round"/><polygon points="117,218 139,258 87,287 65,247" fill="#c8c8c8"/><path d="M93 227l24 43" stroke="#fff" stroke-width="4.0"/><path d="M112 212l28 51M103 216l26 47M98 229l25 45M90 227l24 44M80 230l27 49M74 241l26 48M63 241l28 50" stroke="#0c0c0c" stroke-width="2.8" stroke-linecap="round"/><polygon points="134,64 164,98 131,128 100,94" fill="#c8c8c8"/><path d="M123 72l33 37M111 84l33 37" stroke="#fff" stroke-width="4.0"/><path d="M133 66l32 36M127 73l30 33M121 74l30 34M114 84l31 35M110 87l30 33M99 91l34 39" stroke="#0c0c0c" stroke-width="2.8" stroke-linecap="round"/><polygon points="348,273 377,293 357,321 329,302" fill="#c8c8c8"/><path d="M342 270l39 26M339 281l31 21M334 291l32 21M325 298l39 27" stroke="#0c0c0c" stroke-width="2.8" stroke-linecap="round"/><polygon points="396,0 386,45 337,34 347,-10" fill="#c8c8c8"/><path d="M381 -2l-10 45" stroke="#fff" stroke-width="4.0"/><path d="M395 -2l-10 46M384 -2l-10 45M380 -11l-11 52M370 -8l-10 45M360 -15l-11 50M349 -15l-11 49" stroke="#0c0c0c" stroke-width="2.8" stroke-linecap="round"/><polygon points="396,420 386,465 337,454 347,410" fill="#c8c8c8"/><path d="M381 418l-10 45" stroke="#fff" stroke-width="4.0"/><path d="M395 418l-10 46M384 418l-10 45M380 409l-11 52M370 412l-10 45M360 405l-11 50M349 405l-11 49" stroke="#0c0c0c" stroke-width="2.8" stroke-linecap="round"/><polygon points="71,309 98,321 74,373 47,360" fill="#c8c8c8"/><path d="M61 321l30 14M52 347l28 13" stroke="#fff" stroke-width="4.0"/><path d="M70 310l26 12M61 318l39 18M64 325l30 14M51 331l34 16M51 344l28 13M50 349l33 15M46 358l36 17" stroke="#0c0c0c" stroke-width="2.8" stroke-linecap="round"/><polygon points="258,28 268,73 223,83 213,37" fill="#c8c8c8"/><path d="M245 29l10 47M227 30l12 53" stroke="#fff" stroke-width="4.0"/><path d="M255 21l13 59M247 27l12 55M241 27l12 56M231 34l10 46M224 30l12 54M214 36l10 46" stroke="#0c0c0c" stroke-width="2.8" stroke-linecap="round"/><polygon points="56,30 62,60 6,71 0,40" fill="#c8c8c8"/><path d="M42 33l6 33M25 36l6 29" stroke="#fff" stroke-width="4.0"/><path d="M55 28l7 37M43 25l8 43M38 28l7 36M28 35l5 29M22 35l8 40M11 31l7 36M2 42l6 30" stroke="#0c0c0c" stroke-width="2.8" stroke-linecap="round"/><polygon points="476,30 482,60 426,71 420,40" fill="#c8c8c8"/><path d="M462 33l6 33M445 36l6 29" stroke="#fff" stroke-width="4.0"/><path d="M475 28l7 37M463 25l8 43M458 28l7 36M448 35l5 29M442 35l8 40M431 31l7 36M422 42l6 30" stroke="#0c0c0c" stroke-width="2.8" stroke-linecap="round"/><polygon points="127,33 151,55 108,101 84,78" fill="#c8c8c8"/><path d="M115 42l25 24M105 56l27 25M91 66l28 27" stroke="#fff" stroke-width="4.0"/><path d="M125 32l27 26M114 37l27 26M110 41l31 29M103 50l32 31M101 56l25 24M90 60l28 27M88 66l33 31M84 76l29 28" stroke="#0c0c0c" stroke-width="2.8" stroke-linecap="round"/><polygon points="284,149 278,179 241,172 247,142" fill="#c8c8c8"/><path d="M261 141l-7 36" stroke="#fff" stroke-width="4.0"/><path d="M284 143l-7 34M273 146l-7 35M265 139l-7 37M259 140l-8 41M249 139l-8 40" stroke="#0c0c0c" stroke-width="2.8" stroke-linecap="round"/><polygon points="271,170 262,218 199,206 208,158" fill="#c8c8c8"/><path d="M257 166l-9 49M231 161l-9 50" stroke="#fff" stroke-width="4.0"/><path d="M271 162l-10 54M259 169l-8 44M254 168l-9 48M245 165l-9 48M235 157l-10 54M229 160l-11 57M219 160l-10 51M210 153l-10 52" stroke="#0c0c0c" stroke-width="2.8" stroke-linecap="round"/><polygon points="232,-1 250,24 212,51 194,26" fill="#c8c8c8"/><path d="M217 5l22 31M204 13l21 29" stroke="#fff" stroke-width="4.0"/><path d="M226 -8l22 31M216 -1l28 38M212 2l22 31M207 13l23 33M204 19l23 32M193 22l22 31" stroke="#0c0c0c" stroke-width="2.8" stroke-linecap="round"/><polygon points="232,419 250,444 212,471 194,446" fill="#c8c8c8"/><path d="M217 425l22 31M204 433l21 29" stroke="#fff" stroke-width="4.0"/><path d="M226 412l22 31M216 419l28 38M212 422l22 31M207 433l23 33M204 439l23 32M193 442l22 31" stroke="#0c0c0c" stroke-width="2.8" stroke-linecap="round"/><polygon points="199,-19 219,22 183,39 163,-1" fill="#c8c8c8"/><path d="M177 -9l22 44" stroke="#fff" stroke-width="4.0"/><path d="M197 -19l23 47M188 -14l23 47M176 -17l23 46M171 -14l27 55M164 -3l21 43" stroke="#0c0c0c" stroke-width="2.8" stroke-linecap="round"/><polygon points="199,401 219,442 183,459 163,419" fill="#c8c8c8"/><path d="M177 411l22 44" stroke="#fff" stroke-width="4.0"/><path d="M197 401l23 47M188 406l23 47M176 403l23 46M171 406l27 55M164 417l21 43" stroke="#0c0c0c" stroke-width="2.8" stroke-linecap="round"/><polygon points="164,324 155,357 96,341 104,308" fill="#c8c8c8"/><path d="M150 318l-9 35M133 316l-10 37M119 307l-10 40" stroke="#fff" stroke-width="4.0"/><path d="M165 316l-13 48M154 313l-11 44M147 318l-11 43M136 315l-9 34M130 316l-9 35M121 312l-11 42M116 309l-9 35M108 301l-10 39" stroke="#0c0c0c" stroke-width="2.8" stroke-linecap="round"/><polygon points="252,208 242,244 204,233 215,197" fill="#c8c8c8"/><path d="M230 202l-11 37" stroke="#fff" stroke-width="4.0"/><path d="M251 208l-13 44M243 201l-13 45M235 196l-13 43M228 200l-11 37M216 198l-12 42" stroke="#0c0c0c" stroke-width="2.8" stroke-linecap="round"/><polygon points="355,266 341,292 307,274 321,248" fill="#c8c8c8"/><path d="M344 257l-17 31" stroke="#fff" stroke-width="4.0"/><path d="M357 259l-19 35M349 254l-17 31M340 259l-15 28M332 252l-15 28M326 242l-21 39" stroke="#0c0c0c" stroke-width="2.8" stroke-linecap="round"/><polygon points="107,104 133,125 104,161 78,140" fill="#c8c8c8"/><path d="M96 114l28 22M85 126l31 25" stroke="#fff" stroke-width="4.0"/><path d="M100 100l39 31M101 114l25 20M94 117l34 27M86 124l35 28M83 128l31 24M76 136l35 28" stroke="#0c0c0c" stroke-width="2.8" stroke-linecap="round"/><polygon points="271,320 234,331 213,266 250,254" fill="#c8c8c8"/><path d="M266 305l-40 12M260 278l-40 13" stroke="#fff" stroke-width="4.0"/><path d="M269 319l-39 12M274 305l-46 14M271 301l-47 15M266 290l-44 14M259 281l-43 14M265 273l-45 14M253 266l-41 13M258 253l-52 16" stroke="#0c0c0c" stroke-width="2.8" stroke-linecap="round"/><polygon points="5,191 -18,230 -68,200 -46,161" fill="#c8c8c8"/><path d="M-23 170l-25 42" stroke="#fff" stroke-width="4.0"/><path d="M3 192l-24 41M-2 182l-27 45M-11 178l-24 40M-21 173l-27 45M-25 169l-27 45M-32 160l-30 50M-42 159l-27 45" stroke="#0c0c0c" stroke-width="2.8" stroke-linecap="round"/><polygon points="425,191 402,230 352,200 374,161" fill="#c8c8c8"/><path d="M397 170l-25 42" stroke="#fff" stroke-width="4.0"/><path d="M423 192l-24 41M418 182l-27 45M409 178l-24 40M399 173l-27 45M395 169l-27 45M388 160l-30 50M378 159l-27 45" stroke="#0c0c0c" stroke-width="2.8" stroke-linecap="round"/><polygon points="119,97 97,137 40,106 63,66" fill="#c8c8c8"/><path d="M106 89l-23 43M91 82l-23 41M77 72l-24 44" stroke="#fff" stroke-width="4.0"/><path d="M117 98l-22 41M108 90l-23 43M107 81l-26 47M98 75l-31 56M88 81l-22 40M78 76l-23 42M73 74l-20 37M67 61l-25 45" stroke="#0c0c0c" stroke-width="2.8" stroke-linecap="round"/><polygon points="363,331 379,359 340,382 324,354" fill="#c8c8c8"/><path d="M348 335l19 31M336 346l18 31" stroke="#fff" stroke-width="4.0"/><path d="M359 327l19 32M353 338l17 28M346 337l18 31M336 340l22 37M331 342l23 40M326 355l18 30" stroke="#0c0c0c" stroke-width="2.8" stroke-linecap="round"/><polygon points="234,292 264,318 217,372 187,346" fill="#c8c8c8"/><path d="M221 301l35 31M213 315l33 28M203 327l30 26" stroke="#fff" stroke-width="4.0"/><path d="M233 293l33 29M223 300l34 30M219 303l39 34M209 308l35 30M205 312l39 34M204 325l37 32M198 327l36 31M190 333l34 30M183 341l37 33" stroke="#0c0c0c" stroke-width="2.8" stroke-linecap="round"/><polygon points="29,-52 54,-35 23,11 -2,-6" fill="#c8c8c8"/><path d="M19 -41l30 20M3 -20l31 21" stroke="#fff" stroke-width="4.0"/><path d="M29 -50l23 16M16 -46l38 26M16 -39l28 19M12 -29l31 21M3 -23l34 23M4 -16l27 18M-6 -11l35 24" stroke="#0c0c0c" stroke-width="2.8" stroke-linecap="round"/><polygon points="29,368 54,385 23,431 -2,414" fill="#c8c8c8"/><path d="M19 379l30 20M3 400l31 21" stroke="#fff" stroke-width="4.0"/><path d="M29 370l23 16M16 374l38 26M16 381l28 19M12 391l31 21M3 397l34 23M4 404l27 18M-6 409l35 24" stroke="#0c0c0c" stroke-width="2.8" stroke-linecap="round"/><polygon points="449,-52 474,-35 443,11 418,-6" fill="#c8c8c8"/><path d="M439 -41l30 20M423 -20l31 21" stroke="#fff" stroke-width="4.0"/><path d="M449 -50l23 16M436 -46l38 26M436 -39l28 19M432 -29l31 21M423 -23l34 23M424 -16l27 18M414 -11l35 24" stroke="#0c0c0c" stroke-width="2.8" stroke-linecap="round"/><polygon points="449,368 474,385 443,431 418,414" fill="#c8c8c8"/><path d="M439 379l30 20M423 400l31 21" stroke="#fff" stroke-width="4.0"/><path d="M449 370l23 16M436 374l38 26M436 381l28 19M432 391l31 21M423 397l34 23M424 404l27 18M414 409l35 24" stroke="#0c0c0c" stroke-width="2.8" stroke-linecap="round"/><polygon points="75,97 52,116 18,76 41,57" fill="#c8c8c8"/><path d="M69 82l-28 23" stroke="#fff" stroke-width="4.0"/><path d="M76 94l-30 25M69 87l-24 20M69 79l-29 24M61 71l-28 24M53 63l-27 23M45 55l-26 22" stroke="#0c0c0c" stroke-width="2.8" stroke-linecap="round"/><polygon points="278,108 248,121 224,66 254,52" fill="#c8c8c8"/><path d="M274 95l-31 14M269 79l-36 16M262 64l-36 16" stroke="#fff" stroke-width="4.0"/><path d="M283 104l-41 18M282 94l-41 18M276 91l-34 15M275 80l-44 20M270 76l-33 15M259 68l-34 15M259 62l-32 14M256 53l-35 16" stroke="#0c0c0c" stroke-width="2.8" stroke-linecap="round"/><polygon points="409,247 388,288 332,260 353,219" fill="#c8c8c8"/><path d="M367 224l-22 44" stroke="#fff" stroke-width="4.0"/><path d="M408 246l-25 48M401 238l-22 43M393 229l-29 56M382 227l-24 48M370 224l-26 51M364 223l-21 41M353 221l-20 39" stroke="#0c0c0c" stroke-width="2.8" stroke-linecap="round"/><polygon points="54,310 67,358 22,370 10,322" fill="#c8c8c8"/><path d="M40 312l13 49M24 315l15 56" stroke="#fff" stroke-width="4.0"/><path d="M52 309l15 56M42 312l13 49M38 316l13 48M26 312l16 60M20 312l15 56M11 322l14 52" stroke="#0c0c0c" stroke-width="2.8" stroke-linecap="round"/><polygon points="474,310 487,358 442,370 430,322" fill="#c8c8c8"/><path d="M460 312l13 49M444 315l15 56" stroke="#fff" stroke-width="4.0"/><path d="M472 309l15 56M462 312l13 49M458 316l13 48M446 312l16 60M440 312l15 56M431 322l14 52" stroke="#0c0c0c" stroke-width="2.8" stroke-linecap="round"/><polygon points="115,301 92,341 45,314 68,273" fill="#c8c8c8"/><path d="M102 293l-24 40M91 283l-25 44" stroke="#fff" stroke-width="4.0"/><path d="M116 298l-26 44M107 290l-30 52M102 289l-28 48M95 281l-32 55M91 277l-29 49M82 273l-27 46M69 274l-28 48" stroke="#0c0c0c" stroke-width="2.8" stroke-linecap="round"/><polygon points="18,155 -19,160 -27,105 9,99" fill="#c8c8c8"/><path d="M18 141l-39 6M16 113l-41 6" stroke="#fff" stroke-width="4.0"/><path d="M16 154l-43 6M20 143l-43 6M20 138l-42 6M16 127l-38 6M17 115l-44 7M14 110l-47 7M15 100l-41 6" stroke="#0c0c0c" stroke-width="2.8" stroke-linecap="round"/><polygon points="438,155 401,160 393,105 429,99" fill="#c8c8c8"/><path d="M438 141l-39 6M436 113l-41 6" stroke="#fff" stroke-width="4.0"/><path d="M436 154l-43 6M440 143l-43 6M440 138l-42 6M436 127l-38 6M437 115l-44 7M434 110l-47 7M435 100l-41 6" stroke="#0c0c0c" stroke-width="2.8" stroke-linecap="round"/><polygon points="273,99 278,141 228,147 223,105" fill="#c8c8c8"/><path d="M248 102l5 45" stroke="#fff" stroke-width="4.0"/><path d="M272 98l5 47M261 94l6 52M251 103l5 45M245 103l5 48M234 105l5 46M224 102l6 50" stroke="#0c0c0c" stroke-width="2.8" stroke-linecap="round"/><polygon points="294,280 260,283 256,237 289,234" fill="#c8c8c8"/><path d="M293 265l-36 3M293 248l-37 3" stroke="#fff" stroke-width="4.0"/><path d="M300 278l-47 4M294 268l-38 3M290 263l-40 4M293 251l-39 4M297 245l-46 4M291 235l-38 3" stroke="#0c0c0c" stroke-width="2.8" stroke-linecap="round"/><polygon points="315,213 340,245 303,275 277,243" fill="#c8c8c8"/><path d="M288 232l28 35" stroke="#fff" stroke-width="4.0"/><path d="M313 213l27 34M305 219l26 33M297 224l29 37M288 228l29 37M283 230l34 43M279 242l27 35" stroke="#0c0c0c" stroke-width="2.8" stroke-linecap="round"/><polygon points="244,66 262,99 198,135 180,102" fill="#c8c8c8"/><path d="M229 70l21 37M206 86l19 34M192 92l20 35" stroke="#fff" stroke-width="4.0"/><path d="M241 63l22 39M230 67l21 37M228 75l21 38M216 73l22 39M209 86l21 37M204 87l23 41M192 86l26 46M189 92l25 44M180 98l22 38" stroke="#0c0c0c" stroke-width="2.8" stroke-linecap="round"/><polygon points="79,157 83,186 19,197 15,167" fill="#c8c8c8"/><path d="M64 156l6 37M49 157l6 38" stroke="#fff" stroke-width="4.0"/><path d="M77 158l5 30M67 153l7 42M61 154l6 39M52 157l6 36M46 156l6 37M35 160l6 36M25 164l5 32M15 161l6 37" stroke="#0c0c0c" stroke-width="2.8" stroke-linecap="round"/><polygon points="46,-11 60,16 16,38 3,10" fill="#c8c8c8"/><path d="M16 3l14 29" stroke="#fff" stroke-width="4.0"/><path d="M45 -12l15 31M33 -11l18 37M24 -8l18 37M18 1l14 28M14 6l16 32M1 4l19 39" stroke="#0c0c0c" stroke-width="2.8" stroke-linecap="round"/><polygon points="46,409 60,436 16,458 3,430" fill="#c8c8c8"/><path d="M16 423l14 29" stroke="#fff" stroke-width="4.0"/><path d="M45 408l15 31M33 409l18 37M24 412l18 37M18 421l14 28M14 426l16 32M1 424l19 39" stroke="#0c0c0c" stroke-width="2.8" stroke-linecap="round"/><polygon points="466,-11 480,16 436,38 423,10" fill="#c8c8c8"/><path d="M436 3l14 29" stroke="#fff" stroke-width="4.0"/><path d="M465 -12l15 31M453 -11l18 37M444 -8l18 37M438 1l14 28M434 6l16 32M421 4l19 39" stroke="#0c0c0c" stroke-width="2.8" stroke-linecap="round"/><polygon points="466,409 480,436 436,458 423,430" fill="#c8c8c8"/><path d="M436 423l14 29" stroke="#fff" stroke-width="4.0"/><path d="M465 408l15 31M453 409l18 37M444 412l18 37M438 421l14 28M434 426l16 32M421 424l19 39" stroke="#0c0c0c" stroke-width="2.8" stroke-linecap="round"/><polygon points="274,188 295,220 249,250 228,218" fill="#c8c8c8"/><path d="M261 196l22 34M240 211l23 35" stroke="#fff" stroke-width="4.0"/><path d="M272 188l22 34M264 195l23 36M255 192l29 45M248 200l28 43M239 205l28 43M238 213l23 34M229 218l24 37" stroke="#0c0c0c" stroke-width="2.8" stroke-linecap="round"/><polygon points="268,338 300,348 282,407 249,397" fill="#c8c8c8"/><path d="M257 361l36 11" stroke="#fff" stroke-width="4.0"/><path d="M260 337l41 13M262 350l38 12M254 357l41 13M255 363l41 13M248 373l44 13M251 384l40 12M248 395l39 12" stroke="#0c0c0c" stroke-width="2.8" stroke-linecap="round"/><polygon points="65,262 49,293 -3,266 12,235" fill="#c8c8c8"/><path d="M53 253l-18 35M39 248l-18 35M25 242l-18 34" stroke="#fff" stroke-width="4.0"/><path d="M65 259l-18 35M57 251l-22 42M51 250l-20 39M42 248l-16 32M36 248l-18 34M29 239l-17 33M26 233l-21 40M15 234l-20 38" stroke="#0c0c0c" stroke-width="2.8" stroke-linecap="round"/><polygon points="485,262 469,293 417,266 432,235" fill="#c8c8c8"/><path d="M473 253l-18 35M459 248l-18 35M445 242l-18 34" stroke="#fff" stroke-width="4.0"/><path d="M485 259l-18 35M477 251l-22 42M471 250l-20 39M462 248l-16 32M456 248l-18 34M449 239l-17 33M446 233l-21 40M435 234l-20 38" stroke="#0c0c0c" stroke-width="2.8" stroke-linecap="round"/><polygon points="15,41 -24,72 -57,31 -19,-0" fill="#c8c8c8"/><path d="M6 31l-41 33M-7 8l-45 36" stroke="#fff" stroke-width="4.0"/><path d="M15 39l-41 33M6 34l-37 30M4 28l-37 30M3 15l-47 38M-4 9l-48 39M-10 7l-42 34M-14 -2l-49 40" stroke="#0c0c0c" stroke-width="2.8" stroke-linecap="round"/><polygon points="15,461 -24,492 -57,451 -19,420" fill="#c8c8c8"/><path d="M6 451l-41 33M-7 428l-45 36" stroke="#fff" stroke-width="4.0"/><path d="M15 459l-41 33M6 454l-37 30M4 448l-37 30M3 435l-47 38M-4 429l-48 39M-10 427l-42 34M-14 418l-49 40" stroke="#0c0c0c" stroke-width="2.8" stroke-linecap="round"/><polygon points="435,41 396,72 363,31 401,-0" fill="#c8c8c8"/><path d="M426 31l-41 33M413 8l-45 36" stroke="#fff" stroke-width="4.0"/><path d="M435 39l-41 33M426 34l-37 30M424 28l-37 30M423 15l-47 38M416 9l-48 39M410 7l-42 34M406 -2l-49 40" stroke="#0c0c0c" stroke-width="2.8" stroke-linecap="round"/><polygon points="435,461 396,492 363,451 401,420" fill="#c8c8c8"/><path d="M426 451l-41 33M413 428l-45 36" stroke="#fff" stroke-width="4.0"/><path d="M435 459l-41 33M426 454l-37 30M424 448l-37 30M423 435l-47 38M416 429l-48 39M410 427l-42 34M406 418l-49 40" stroke="#0c0c0c" stroke-width="2.8" stroke-linecap="round"/><polygon points="364,98 318,108 306,52 352,42" fill="#c8c8c8"/><path d="M361 83l-45 10M361 67l-51 11" stroke="#fff" stroke-width="4.0"/><path d="M369 95l-52 11M360 86l-45 10M364 79l-51 11M360 70l-48 10M360 64l-52 11M362 53l-54 12M354 43l-55 12" stroke="#0c0c0c" stroke-width="2.8" stroke-linecap="round"/><polygon points="381,30 388,66 356,72 349,36" fill="#c8c8c8"/><path d="M379 27l9 48M369 29l9 47M360 32l8 45M350 35l8 42" stroke="#0c0c0c" stroke-width="2.8" stroke-linecap="round"/><polygon points="16,329 -22,350 -46,308 -9,286" fill="#c8c8c8"/><path d="M-0 299l-37 21" stroke="#fff" stroke-width="4.0"/><path d="M19 326l-46 26M15 317l-42 24M10 309l-42 24M3 300l-42 24M-1 296l-38 22M-6 286l-47 26" stroke="#0c0c0c" stroke-width="2.8" stroke-linecap="round"/><polygon points="436,329 398,350 374,308 411,286" fill="#c8c8c8"/><path d="M420 299l-37 21" stroke="#fff" stroke-width="4.0"/><path d="M439 326l-46 26M435 317l-42 24M430 309l-42 24M423 300l-42 24M419 296l-38 22M414 286l-47 26" stroke="#0c0c0c" stroke-width="2.8" stroke-linecap="round"/><polygon points="209,291 164,299 156,258 201,249" fill="#c8c8c8"/><path d="M211 277l-50 9M207 262l-49 9" stroke="#fff" stroke-width="4.0"/><path d="M209 290l-51 10M205 280l-47 9M212 274l-51 10M210 264l-54 10M208 259l-53 10M200 251l-52 10" stroke="#0c0c0c" stroke-width="2.8" stroke-linecap="round"/></g></pattern>
</defs>
<defs>
<clipPath id="cmz"><polygon points="864.0,165.0 2005.0,173.0 2005.0,392.0 1770.0,396.0 2003.0,619.0 2009.0,858.0 2005.0,1000.0 1997.0,1421.0 1660.0,1764.0 851.0,1765.0 520.0,1430.0 521.0,1000.0 514.0,632.0 864.0,264.0"/></clipPath>
<clipPath id="cmf"><path d="M862.0 2354.0 L1652.0 2352.0 L2000.0 2686.0 L1998.0 3466.0 L1647.0 3822.0 L865.0 3822.0 L522.0 3495.0 L522.0 2686.0ZM1680.0 2227.0 L2233.0 2227.0 L2233.0 2680.0 L2015.0 2680.0 L1680.0 2359.0ZM2025.0 2697.0 L2347.0 2697.0 L2347.0 3024.0 L2233.0 3024.0 L2237.0 3470.0 L2022.0 3470.0ZM1990.0 3495.0 L2233.0 3495.0 L2230.0 3822.0 L1902.0 3822.0 L1902.0 3585.0ZM1877.0 3661.0 L1877.0 3822.0 L1670.0 3822.0 L1827.0 3661.0ZM180.0 2680.0 L497.0 2680.0 L497.0 3461.0 L180.0 3461.0ZM178.0 3492.0 L506.0 3492.0 L506.0 3709.0 L178.0 3709.0ZM862.0 2227.0 L964.0 2227.0 L964.0 2337.0 L862.0 2337.0ZM979.0 2227.0 L1083.0 2227.0 L1083.0 2337.0 L979.0 2337.0ZM1098.0 2227.0 L1196.0 2227.0 L1196.0 2337.0 L1098.0 2337.0ZM1215.0 2227.0 L1312.0 2227.0 L1312.0 2337.0 L1215.0 2337.0ZM1326.0 2227.0 L1426.0 2227.0 L1426.0 2337.0 L1326.0 2337.0ZM1445.0 2227.0 L1543.0 2227.0 L1543.0 2337.0 L1445.0 2337.0ZM1559.0 2227.0 L1665.0 2227.0 L1665.0 2337.0 L1559.0 2337.0Z"/></clipPath>
</defs>
<g id="mezz">
<polygon points="864.0,165.0 2005.0,173.0 2005.0,392.0 1770.0,396.0 2003.0,619.0 2009.0,858.0 2005.0,1000.0 1997.0,1421.0 1660.0,1764.0 851.0,1765.0 520.0,1430.0 521.0,1000.0 514.0,632.0 864.0,264.0" fill="#fff"/>
<g clip-path="url(#cmz)" stroke="#c9c9c9" stroke-width="5.4" fill="none" stroke-dasharray="83.0 31.40"><path d="M402.5 -45.2V1998.3M516.9 -45.2V1998.3M631.3 -45.2V1998.3M745.7 -45.2V1998.3M860.1 -45.2V1998.3M974.5 -45.2V1998.3M1088.9 -45.2V1998.3M1203.3 -45.2V1998.3M1317.7 -45.2V1998.3M1432.1 -45.2V1998.3M1546.5 -45.2V1998.3M1660.9 -45.2V1998.3M1775.3 -45.2V1998.3M1889.7 -45.2V1998.3M2004.1 -45.2V1998.3M2118.5 -45.2V1998.3M303.8 -60.9H2232.9M303.8 53.5H2232.9M303.8 167.9H2232.9M303.8 282.3H2232.9M303.8 396.7H2232.9M303.8 511.1H2232.9M303.8 625.5H2232.9M303.8 739.9H2232.9M303.8 854.3H2232.9M303.8 968.7H2232.9M303.8 1083.1H2232.9M303.8 1197.5H2232.9M303.8 1311.9H2232.9M303.8 1426.3H2232.9M303.8 1540.7H2232.9M303.8 1655.1H2232.9M303.8 1769.5H2232.9M303.8 1883.9H2232.9M303.8 1998.3H2232.9"/></g>
<polygon points="864.0,165.0 2005.0,173.0 2005.0,392.0 1770.0,396.0 2003.0,619.0 2009.0,858.0 2005.0,1000.0 1997.0,1421.0 1660.0,1764.0 851.0,1765.0 520.0,1430.0 521.0,1000.0 514.0,632.0 864.0,264.0" fill="none" stroke="#fff" stroke-width="38" stroke-linejoin="round" clip-path="url(#cmz)"/>
<g stroke-linejoin="round"><text x="761.4" y="552.0" font-size="75" textLength="547.1" lengthAdjust="spacingAndGlyphs" style="stroke:#fff;stroke-width:20px;fill:#fff">Upper Workshop</text><text x="1187.5" y="1004.4" font-size="75" textLength="160.0" lengthAdjust="spacingAndGlyphs" style="stroke:#fff;stroke-width:20px;fill:#fff">View</text><text x="1078.7" y="1095.8" font-size="75" textLength="376.0" lengthAdjust="spacingAndGlyphs" style="stroke:#fff;stroke-width:20px;fill:#fff">Downstairs</text><text x="1698.4" y="1046.8" font-size="75" textLength="283.7" lengthAdjust="spacingAndGlyphs" style="stroke:#fff;stroke-width:20px;fill:#fff">Cabinets</text></g>
<polygon class="halo" points="863.0,168.0 1270.0,172.0 1270.0,206.0 1085.0,397.0 863.0,396.0"/>
<polygon class="halo" points="1279.9,234.3 1306.3,260.8 1190.6,372.2 1160.2,345.1"/>
<polygon class="halo" points="522.0,734.4 630.0,734.4 630.0,964.5 522.0,964.5"/>
<polygon class="halo" points="522.0,1070.0 626.2,1070.0 629.0,1305.3 522.0,1303.0"/>
<polygon class="halo" points="2006.0,626.0 1876.0,626.0 1877.0,851.0 2008.0,852.0"/>
<polygon class="halo" points="2010.0,921.8 1876.0,921.8 1876.0,1143.6 2010.0,1145.0"/>
<polygon class="halo" points="2006.0,1194.5 1872.0,1194.5 1872.0,1412.7 1999.0,1412.7"/>
<polygon class="halo" points="857.9,1574.2 1290.0,1584.6 1544.9,1581.7 1537.4,1768.0 858.0,1766.0"/>
<polygon class="halo" points="1556.8,1651.6 1660.0,1651.6 1662.0,1768.0 1556.8,1768.0"/>
<circle class="halo" cx="906.9" cy="441" r="30"/>
<circle class="halo" cx="1603" cy="1604" r="29.8"/>
<rect x="1540" y="170" width="466" height="226" fill="#fff"/>
<polygon class="f" points="863.0,168.0 1270.0,172.0 1270.0,206.0 1085.0,397.0 863.0,396.0"/>
<rect class="f" x="914.5" y="166.0" width="173.5" height="25.3"/>
<rect class="f" x="881.4" y="209.5" width="29.8" height="49.6"/>
<rect class="f" x="875.8" y="345.1" width="15.5" height="38.0"/>
<polygon class="f" points="974.0,235.3 995.5,244.2 944.2,325.3 922.8,313.7"/>
<circle class="l" cx="970.7" cy="259.1" r="4.6"/>
<circle class="l" cx="957.5" cy="283.9" r="4.6"/>
<circle class="l" cx="941.9" cy="303.8" r="4.6"/>
<circle class="f" cx="1048.4" cy="235.3" r="21.0"/>
<circle class="f" cx="1104.0" cy="216.1" r="18.0"/>
<polygon class="f" points="1151.6,194.3 1179.7,191.3 1181.7,211.8 1155.6,214.8"/>
<ellipse class="f" cx="1232.0" cy="193.7" rx="10.5" ry="8.0"/>
<polygon class="f" points="1195.6,209.5 1213.8,229.4 1177.4,265.7 1154.2,242.6"/>
<circle class="l" cx="1193.9" cy="230.0" r="3.6"/>
<circle class="l" cx="1172.4" cy="245.9" r="3.6"/>
<polygon class="f" points="1279.9,234.3 1306.3,260.8 1190.6,372.2 1160.2,345.1"/>
<path class="l" d="M1548.8 184.5L1550.8 380.0M1668.8 188.0L1670.8 382.0M1781.6 197.0L1783.6 376.0M1897.8 198.0L1899.8 378.0" style="stroke-width:3.6"/>
<path class="l" d="M1571.8 207.5L1573.3 360.0M1597.9 240.0L1599.4 327.0M1617.0 255.5L1618.5 309.0M1637.8 272.7L1639.3 295.0M1691.8 209.5L1693.3 362.0M1718.3 236.0L1719.8 322.6M1741.3 258.0L1742.8 297.0M1760.9 270.8L1762.4 284.0M1804.6 221.0L1806.1 346.8M1834.5 236.0L1836.0 317.0M1854.9 259.3L1856.4 301.5M1876.0 272.0L1877.5 282.3M1922.0 217.0L1923.5 357.0M1946.9 242.0L1948.4 322.6M1973.4 265.0L1974.9 303.4M1990.6 276.6L1992.1 289.0" style="stroke-width:4.6"/>
<polyline class="l" points="1546.8,395.5 1660.0,396.0 1771.0,401.0" style="stroke-width:3"/>
<polygon class="f" points="2006.0,626.0 1885.5,626.0 1886.5,851.0 2008.0,852.0"/>
<polyline class="t" points="1885.5,661.0 1875.3,661.0 1877.0,814.5 1886.0,814.5"/>
<path class="t" d="M1875.5 738.0L1885.5 738.0"/>
<polygon class="f" points="2010.0,921.8 1885.5,921.8 1885.5,1143.6 2010.0,1145.0"/>
<polyline class="t" points="1885.5,952.0 1875.3,952.0 1876.0,1000.0"/>
<path class="t" d="M1854.5 1056.4L1878.0 1111.0M1860.0 1054.0L1884.0 1108.0"/>
<polygon class="f" points="2006.0,1194.5 1883.6,1194.5 1881.0,1412.7 1999.0,1412.7"/>
<polyline class="t" points="1883.0,1218.0 1871.0,1218.0 1873.0,1389.0 1882.0,1389.0"/>
<path class="t" d="M1872.0 1300.0L1882.0 1300.0"/>
<path class="f" d="M522 734.4H622Q630 734.4 630 742V824H609.5V886H629.5V957Q629.5 964.5 622 964.5H522Z"/>
<path class="t" d="M528 745H606Q616 745 617 755L619 812M604 820Q598 822 598 830V880Q598 890 606 893M619 900V948Q619 955 610 955H528" stroke-dasharray="14 5"/>
<polygon class="f" points="522.0,1082.0 626.2,1082.0 629.0,1305.3 522.0,1303.0"/>
<path class="l" d="M532 1082V1071Q535 1066 538 1071V1082" style="stroke-width:3"/>
<path class="l" d="M559.7 1082V1071Q562.7 1066 565.7 1071V1082" style="stroke-width:3"/>
<path class="l" d="M586.2 1082V1071Q589.2 1066 592.2 1071V1082" style="stroke-width:3"/>
<path class="l" d="M610 1082V1071Q613 1066 616 1071V1082" style="stroke-width:3"/>
<polygon class="f" points="539.0,1127.0 564.0,1124.3 570.7,1189.0 535.0,1190.4"/>
<path class="t" d="M549.5 1146.0L552.0 1170.0"/>
<path class="t" d="M570 1149Q574 1150 572 1160"/>
<rect class="f" x="533.0" y="1268.4" width="19.0" height="19.8"/>
<polygon class="f" points="857.9,1574.2 1290.0,1584.6 1544.9,1581.7 1537.4,1768.0 858.0,1766.0"/>
<polygon class="f" points="920.4,1615.9 969.5,1635.2 921.8,1703.1 904.0,1693.3"/>
<path class="t" d="M923.0 1625.0L962.0 1635.0M914.0 1654.6L945.6 1662.0M910.0 1680.0L929.0 1684.3" stroke-dasharray="7 5"/>
<circle class="f" cx="1030.5" cy="1691.8" r="17.5"/>
<path class="l" d="M1042.4 1665.0L1038.0 1674.0M1005.0 1680.0L1014.0 1686.0M1036.5 1709.6L1042.4 1718.6"/>
<polygon class="f" points="1085.5,1614.4 1101.9,1612.0 1112.3,1711.1 1093.0,1715.6"/>
<path class="l" d="M1103.0 1619.8A9.5 9.5 0 0 1 1105.0 1638.8"/>
<path class="l" d="M1106.5 1654.0A9.5 9.5 0 0 1 1108.5 1673.0"/>
<path class="l" d="M1109.5 1682.3A9.5 9.5 0 0 1 1111.5 1701.3"/>
<rect class="f" x="1373.8" y="1606.0" width="18.2" height="27.8"/>
<polygon class="f" points="1390.7,1598.5 1431.3,1596.5 1434.3,1639.2 1392.7,1642.2"/>
<polygon class="f" points="1460.0,1596.0 1500.7,1595.0 1501.7,1635.7 1462.0,1637.7"/>
<polygon class="f" points="1462.0,1679.4 1492.7,1678.4 1493.7,1750.7 1461.0,1751.7"/>
<ellipse class="k" cx="1476.4" cy="1693.3" rx="3.6" ry="3.0"/>
<ellipse class="k" cx="1476.4" cy="1709.6" rx="3.6" ry="3.0"/>
<ellipse class="k" cx="1476.4" cy="1726.0" rx="3.6" ry="3.0"/>
<ellipse class="k" cx="1476.4" cy="1738.8" rx="3.6" ry="3.0"/>
<polygon class="f" points="1556.8,1651.6 1660.0,1651.6 1662.0,1768.0 1556.8,1768.0"/>
<polygon class="t" points="1573.0,1669.5 1603.0,1673.0 1635.7,1671.0 1634.0,1703.0 1603.0,1706.0 1571.0,1701.0"/>
<path class="t" d="M1603.0 1673.0L1603.0 1706.0"/>
<path class="t" d="M1580.0 1680.0L1596.0 1682.0M1580.0 1688.0L1596.0 1690.0M1580.0 1695.0L1594.0 1697.0M1610.0 1682.0L1628.0 1680.0M1610.0 1689.0L1628.0 1688.0M1610.0 1696.0L1626.0 1695.0" stroke-dasharray="3 3"/>
<rect class="f" x="1572.3" y="1732.0" width="18.7" height="20.8"/>
<ellipse class="l" cx="1626.7" cy="1729.9" rx="6.0" ry="4.5"/>
<g clip-path="url(#cmz)"><path d="M800.0 54.0 L980.0 50.0 L980.0 105.0 L2075.0 111.0 L2078.0 437.0 L2063.0 578.0 L2063.0 1000.0 L2067.0 1206.0 L2055.0 1479.0 L1708.0 1842.0 L794.0 1827.0 L462.0 1488.0 L462.0 905.0 L452.0 794.0 L454.0 575.0 L802.0 223.0ZM864.0 165.0 L2005.0 173.0 L2005.0 392.0 L1770.0 396.0 L2003.0 619.0 L2009.0 858.0 L2005.0 1000.0 L1997.0 1421.0 L1660.0 1764.0 L851.0 1765.0 L520.0 1430.0 L521.0 1000.0 L514.0 632.0 L864.0 264.0Z" fill="#a6a6a6" fill-rule="evenodd" transform="translate(17 16)"/></g>
<path d="M800.0 54.0 L980.0 50.0 L980.0 105.0 L2075.0 111.0 L2078.0 437.0 L2063.0 578.0 L2063.0 1000.0 L2067.0 1206.0 L2055.0 1479.0 L1708.0 1842.0 L794.0 1827.0 L462.0 1488.0 L462.0 905.0 L452.0 794.0 L454.0 575.0 L802.0 223.0ZM864.0 165.0 L2005.0 173.0 L2005.0 392.0 L1770.0 396.0 L2003.0 619.0 L2009.0 858.0 L2005.0 1000.0 L1997.0 1421.0 L1660.0 1764.0 L851.0 1765.0 L520.0 1430.0 L521.0 1000.0 L514.0 632.0 L864.0 264.0Z" fill="url(#hatch)" fill-rule="evenodd" stroke="#0a0a0a" stroke-width="8" stroke-linejoin="round"/>
<g class="nf"><rect x="1540" y="170" width="466" height="226" fill="#fff"/>
<polygon class="f" points="863.0,168.0 1270.0,172.0 1270.0,206.0 1085.0,397.0 863.0,396.0"/>
<rect class="f" x="914.5" y="166.0" width="173.5" height="25.3"/>
<rect class="f" x="881.4" y="209.5" width="29.8" height="49.6"/>
<rect class="f" x="875.8" y="345.1" width="15.5" height="38.0"/>
<polygon class="f" points="974.0,235.3 995.5,244.2 944.2,325.3 922.8,313.7"/>
<circle class="l" cx="970.7" cy="259.1" r="4.6"/>
<circle class="l" cx="957.5" cy="283.9" r="4.6"/>
<circle class="l" cx="941.9" cy="303.8" r="4.6"/>
<circle class="f" cx="1048.4" cy="235.3" r="21.0"/>
<circle class="f" cx="1104.0" cy="216.1" r="18.0"/>
<polygon class="f" points="1151.6,194.3 1179.7,191.3 1181.7,211.8 1155.6,214.8"/>
<ellipse class="f" cx="1232.0" cy="193.7" rx="10.5" ry="8.0"/>
<polygon class="f" points="1195.6,209.5 1213.8,229.4 1177.4,265.7 1154.2,242.6"/>
<circle class="l" cx="1193.9" cy="230.0" r="3.6"/>
<circle class="l" cx="1172.4" cy="245.9" r="3.6"/>
<polygon class="f" points="1279.9,234.3 1306.3,260.8 1190.6,372.2 1160.2,345.1"/>
<path class="l" d="M1548.8 184.5L1550.8 380.0M1668.8 188.0L1670.8 382.0M1781.6 197.0L1783.6 376.0M1897.8 198.0L1899.8 378.0" style="stroke-width:3.6"/>
<path class="l" d="M1571.8 207.5L1573.3 360.0M1597.9 240.0L1599.4 327.0M1617.0 255.5L1618.5 309.0M1637.8 272.7L1639.3 295.0M1691.8 209.5L1693.3 362.0M1718.3 236.0L1719.8 322.6M1741.3 258.0L1742.8 297.0M1760.9 270.8L1762.4 284.0M1804.6 221.0L1806.1 346.8M1834.5 236.0L1836.0 317.0M1854.9 259.3L1856.4 301.5M1876.0 272.0L1877.5 282.3M1922.0 217.0L1923.5 357.0M1946.9 242.0L1948.4 322.6M1973.4 265.0L1974.9 303.4M1990.6 276.6L1992.1 289.0" style="stroke-width:4.6"/>
<polyline class="l" points="1546.8,395.5 1660.0,396.0 1771.0,401.0" style="stroke-width:3"/>
<polygon class="f" points="2006.0,626.0 1885.5,626.0 1886.5,851.0 2008.0,852.0"/>
<polyline class="t" points="1885.5,661.0 1875.3,661.0 1877.0,814.5 1886.0,814.5"/>
<path class="t" d="M1875.5 738.0L1885.5 738.0"/>
<polygon class="f" points="2010.0,921.8 1885.5,921.8 1885.5,1143.6 2010.0,1145.0"/>
<polyline class="t" points="1885.5,952.0 1875.3,952.0 1876.0,1000.0"/>
<path class="t" d="M1854.5 1056.4L1878.0 1111.0M1860.0 1054.0L1884.0 1108.0"/>
<polygon class="f" points="2006.0,1194.5 1883.6,1194.5 1881.0,1412.7 1999.0,1412.7"/>
<polyline class="t" points="1883.0,1218.0 1871.0,1218.0 1873.0,1389.0 1882.0,1389.0"/>
<path class="t" d="M1872.0 1300.0L1882.0 1300.0"/>
<path class="f" d="M522 734.4H622Q630 734.4 630 742V824H609.5V886H629.5V957Q629.5 964.5 622 964.5H522Z"/>
<path class="t" d="M528 745H606Q616 745 617 755L619 812M604 820Q598 822 598 830V880Q598 890 606 893M619 900V948Q619 955 610 955H528" stroke-dasharray="14 5"/>
<polygon class="f" points="522.0,1082.0 626.2,1082.0 629.0,1305.3 522.0,1303.0"/>
<path class="l" d="M532 1082V1071Q535 1066 538 1071V1082" style="stroke-width:3"/>
<path class="l" d="M559.7 1082V1071Q562.7 1066 565.7 1071V1082" style="stroke-width:3"/>
<path class="l" d="M586.2 1082V1071Q589.2 1066 592.2 1071V1082" style="stroke-width:3"/>
<path class="l" d="M610 1082V1071Q613 1066 616 1071V1082" style="stroke-width:3"/>
<polygon class="f" points="539.0,1127.0 564.0,1124.3 570.7,1189.0 535.0,1190.4"/>
<path class="t" d="M549.5 1146.0L552.0 1170.0"/>
<path class="t" d="M570 1149Q574 1150 572 1160"/>
<rect class="f" x="533.0" y="1268.4" width="19.0" height="19.8"/>
<polygon class="f" points="857.9,1574.2 1290.0,1584.6 1544.9,1581.7 1537.4,1768.0 858.0,1766.0"/>
<polygon class="f" points="920.4,1615.9 969.5,1635.2 921.8,1703.1 904.0,1693.3"/>
<path class="t" d="M923.0 1625.0L962.0 1635.0M914.0 1654.6L945.6 1662.0M910.0 1680.0L929.0 1684.3" stroke-dasharray="7 5"/>
<circle class="f" cx="1030.5" cy="1691.8" r="17.5"/>
<path class="l" d="M1042.4 1665.0L1038.0 1674.0M1005.0 1680.0L1014.0 1686.0M1036.5 1709.6L1042.4 1718.6"/>
<polygon class="f" points="1085.5,1614.4 1101.9,1612.0 1112.3,1711.1 1093.0,1715.6"/>
<path class="l" d="M1103.0 1619.8A9.5 9.5 0 0 1 1105.0 1638.8"/>
<path class="l" d="M1106.5 1654.0A9.5 9.5 0 0 1 1108.5 1673.0"/>
<path class="l" d="M1109.5 1682.3A9.5 9.5 0 0 1 1111.5 1701.3"/>
<rect class="f" x="1373.8" y="1606.0" width="18.2" height="27.8"/>
<polygon class="f" points="1390.7,1598.5 1431.3,1596.5 1434.3,1639.2 1392.7,1642.2"/>
<polygon class="f" points="1460.0,1596.0 1500.7,1595.0 1501.7,1635.7 1462.0,1637.7"/>
<polygon class="f" points="1462.0,1679.4 1492.7,1678.4 1493.7,1750.7 1461.0,1751.7"/>
<ellipse class="k" cx="1476.4" cy="1693.3" rx="3.6" ry="3.0"/>
<ellipse class="k" cx="1476.4" cy="1709.6" rx="3.6" ry="3.0"/>
<ellipse class="k" cx="1476.4" cy="1726.0" rx="3.6" ry="3.0"/>
<ellipse class="k" cx="1476.4" cy="1738.8" rx="3.6" ry="3.0"/>
<polygon class="f" points="1556.8,1651.6 1660.0,1651.6 1662.0,1768.0 1556.8,1768.0"/>
<polygon class="t" points="1573.0,1669.5 1603.0,1673.0 1635.7,1671.0 1634.0,1703.0 1603.0,1706.0 1571.0,1701.0"/>
<path class="t" d="M1603.0 1673.0L1603.0 1706.0"/>
<path class="t" d="M1580.0 1680.0L1596.0 1682.0M1580.0 1688.0L1596.0 1690.0M1580.0 1695.0L1594.0 1697.0M1610.0 1682.0L1628.0 1680.0M1610.0 1689.0L1628.0 1688.0M1610.0 1696.0L1626.0 1695.0" stroke-dasharray="3 3"/>
<rect class="f" x="1572.3" y="1732.0" width="18.7" height="20.8"/>
<ellipse class="l" cx="1626.7" cy="1729.9" rx="6.0" ry="4.5"/></g>
<path class="f" d="M449 792.5H569Q575 792.5 575 799V895Q575 901 569 901H449Q443.5 901 443.5 895V799Q443.5 792.5 449 792.5Z" style="stroke-width:6"/>
<path class="t" d="M450.0 800.0L466.0 816.0M568.0 800.0L549.0 816.0M450.0 894.0L466.0 878.0M568.0 894.0L549.0 878.0M480.0 799.0L488.0 811.0M500.0 797.0L503.0 809.0M520.0 800.0L516.0 811.0M538.0 799.0L531.0 810.0M452.0 830.0L461.0 834.0M451.0 850.0L460.0 848.0M452.0 866.0L462.0 864.0M556.0 828.0L566.0 826.0M555.0 846.0L566.0 848.0M556.0 862.0L566.0 866.0M476.0 884.0L486.0 894.0M498.0 884.0L506.0 895.0M520.0 884.0L526.0 894.0M540.0 884.0L548.0 892.0" style="stroke-width:2.6"/>
<path class="f" d="M472 815H544Q549.5 815 549.5 820V873Q549.5 878.4 544 878.4H472Q465.5 878.4 465.5 873V820Q465.5 815 472 815Z" style="stroke-width:5"/>
<polygon points="975.0,606.0 1555.0,606.0 1677.0,735.0 1677.0,1322.0 1560.0,1442.0 950.0,1442.0 839.0,1320.0 839.0,735.0" fill="#fff" stroke="#fff" stroke-width="34" stroke-linejoin="round"/>
<polygon points="980.0,626.0 1543.0,623.0 1654.0,739.0 1663.0,1305.0 1551.0,1421.0 959.0,1423.0 856.0,1310.0 862.0,1000.0 860.0,740.0" fill="#fff" stroke="#0a0a0a" stroke-width="4.5" stroke-linejoin="round"/>
<polygon points="975.0,606.0 1555.0,606.0 1677.0,735.0 1677.0,1322.0 1560.0,1442.0 950.0,1442.0 839.0,1320.0 839.0,735.0" fill="none" stroke="#0a0a0a" stroke-width="11" stroke-linecap="round" stroke-dasharray="0 27.2" stroke-linejoin="round"/>
<circle class="f" cx="906.9" cy="441.0" r="30.0"/>
<circle class="f" cx="1603.0" cy="1604.0" r="29.8"/>
</g>
<g id="main">
<path d="M810.0 2111.0 L973.0 2110.0 L973.0 2163.0 L2230.0 2169.0 L2227.0 2112.0 L2303.0 2114.0 L2305.0 2166.0 L2351.0 2166.0 L2352.0 2233.0 L2302.0 2233.0 L2302.0 2566.0 L2350.0 2569.0 L2352.0 2622.0 L2428.0 2622.0 L2438.3 2624.0 L2447.3 2629.7 L2454.0 2638.5 L2457.5 2649.3 L2457.5 2660.7 L2454.0 2671.5 L2447.3 2680.3 L2438.3 2686.0 L2428.0 2688.0 L2408.0 2688.0 L2406.0 2792.0 L2372.0 2800.0 L2372.0 2913.0 L2411.0 2913.0 L2411.0 3021.0 L2432.0 3021.0 L2442.6 3023.2 L2451.9 3029.5 L2458.8 3039.2 L2462.5 3051.2 L2462.5 3063.8 L2458.8 3075.8 L2451.9 3085.5 L2442.6 3091.8 L2432.0 3094.0 L2350.0 3096.0 L2350.0 3141.0 L2302.0 3141.0 L2302.0 3709.0 L2347.0 3709.0 L2347.0 3936.0 L1664.0 3936.0 L1660.0 3899.0 L818.0 3893.0 L746.0 3824.0 L167.0 3825.0 L167.0 3775.0 L117.0 3772.0 L117.0 3711.0 L61.0 3709.0 L58.0 3364.0 L105.0 3363.0 L105.0 3196.0 L56.0 3196.0 L56.0 3135.0 L160.0 3133.0 L160.0 3027.0 L56.0 3027.0 L56.0 2959.0 L122.0 2959.0 L116.0 2627.0 L461.0 2630.0 L808.0 2288.0Z" fill="#a6a6a6" transform="translate(17 16)"/>
<path d="M862.0 2354.0 L1652.0 2352.0 L2000.0 2686.0 L1998.0 3466.0 L1647.0 3822.0 L865.0 3822.0 L522.0 3495.0 L522.0 2686.0ZM1680.0 2227.0 L2233.0 2227.0 L2233.0 2680.0 L2015.0 2680.0 L1680.0 2359.0ZM2025.0 2697.0 L2347.0 2697.0 L2347.0 3024.0 L2233.0 3024.0 L2237.0 3470.0 L2022.0 3470.0ZM1990.0 3495.0 L2233.0 3495.0 L2230.0 3822.0 L1902.0 3822.0 L1902.0 3585.0ZM1877.0 3661.0 L1877.0 3822.0 L1670.0 3822.0 L1827.0 3661.0ZM180.0 2680.0 L497.0 2680.0 L497.0 3461.0 L180.0 3461.0ZM178.0 3492.0 L506.0 3492.0 L506.0 3709.0 L178.0 3709.0ZM862.0 2227.0 L964.0 2227.0 L964.0 2337.0 L862.0 2337.0ZM979.0 2227.0 L1083.0 2227.0 L1083.0 2337.0 L979.0 2337.0ZM1098.0 2227.0 L1196.0 2227.0 L1196.0 2337.0 L1098.0 2337.0ZM1215.0 2227.0 L1312.0 2227.0 L1312.0 2337.0 L1215.0 2337.0ZM1326.0 2227.0 L1426.0 2227.0 L1426.0 2337.0 L1326.0 2337.0ZM1445.0 2227.0 L1543.0 2227.0 L1543.0 2337.0 L1445.0 2337.0ZM1559.0 2227.0 L1665.0 2227.0 L1665.0 2337.0 L1559.0 2337.0Z" fill="#fff"/>
<g clip-path="url(#cmf)" stroke="#c9c9c9" stroke-width="5.4" fill="none" stroke-dasharray="83.0 31.45"><path d="M58.2 2011.0V4055.4M172.7 2011.0V4055.4M287.1 2011.0V4055.4M401.6 2011.0V4055.4M516.0 2011.0V4055.4M630.5 2011.0V4055.4M744.9 2011.0V4055.4M859.4 2011.0V4055.4M973.9 2011.0V4055.4M1088.3 2011.0V4055.4M1202.8 2011.0V4055.4M1317.2 2011.0V4055.4M1431.7 2011.0V4055.4M1546.1 2011.0V4055.4M1660.5 2011.0V4055.4M1775.0 2011.0V4055.4M1889.4 2011.0V4055.4M2003.9 2011.0V4055.4M2118.3 2011.0V4055.4M2232.8 2011.0V4055.4M2347.2 2011.0V4055.4M2461.7 2011.0V4055.4M-40.5 1995.2H2576.2M-40.5 2109.7H2576.2M-40.5 2224.2H2576.2M-40.5 2338.6H2576.2M-40.5 2453.1H2576.2M-40.5 2567.5H2576.2M-40.5 2682.0H2576.2M-40.5 2796.4H2576.2M-40.5 2910.8H2576.2M-40.5 3025.3H2576.2M-40.5 3139.8H2576.2M-40.5 3254.2H2576.2M-40.5 3368.7H2576.2M-40.5 3483.1H2576.2M-40.5 3597.6H2576.2M-40.5 3712.0H2576.2M-40.5 3826.4H2576.2M-40.5 3940.9H2576.2M-40.5 4055.4H2576.2"/></g>
<path d="M862.0 2354.0 L1652.0 2352.0 L2000.0 2686.0 L1998.0 3466.0 L1647.0 3822.0 L865.0 3822.0 L522.0 3495.0 L522.0 2686.0ZM1680.0 2227.0 L2233.0 2227.0 L2233.0 2680.0 L2015.0 2680.0 L1680.0 2359.0ZM2025.0 2697.0 L2347.0 2697.0 L2347.0 3024.0 L2233.0 3024.0 L2237.0 3470.0 L2022.0 3470.0ZM1990.0 3495.0 L2233.0 3495.0 L2230.0 3822.0 L1902.0 3822.0 L1902.0 3585.0ZM1877.0 3661.0 L1877.0 3822.0 L1670.0 3822.0 L1827.0 3661.0ZM180.0 2680.0 L497.0 2680.0 L497.0 3461.0 L180.0 3461.0ZM178.0 3492.0 L506.0 3492.0 L506.0 3709.0 L178.0 3709.0ZM862.0 2227.0 L964.0 2227.0 L964.0 2337.0 L862.0 2337.0ZM979.0 2227.0 L1083.0 2227.0 L1083.0 2337.0 L979.0 2337.0ZM1098.0 2227.0 L1196.0 2227.0 L1196.0 2337.0 L1098.0 2337.0ZM1215.0 2227.0 L1312.0 2227.0 L1312.0 2337.0 L1215.0 2337.0ZM1326.0 2227.0 L1426.0 2227.0 L1426.0 2337.0 L1326.0 2337.0ZM1445.0 2227.0 L1543.0 2227.0 L1543.0 2337.0 L1445.0 2337.0ZM1559.0 2227.0 L1665.0 2227.0 L1665.0 2337.0 L1559.0 2337.0Z" fill="none" stroke="#fff" stroke-width="38" stroke-linejoin="round" clip-path="url(#cmf)"/>
<polygon points="2025.0,3018.0 2125.0,3018.0 2125.0,3041.0 2025.0,3041.0" fill="#fff" stroke="#fff" stroke-width="30" stroke-linejoin="round"/>
<polygon points="1774.0,2437.0 1897.0,2443.0 1897.0,2461.0 1794.0,2459.0" fill="#fff" stroke="#fff" stroke-width="30" stroke-linejoin="round"/>
<g stroke-linejoin="round"><text x="1135.6" y="2436.4" font-size="76" textLength="262.0" lengthAdjust="spacingAndGlyphs" style="stroke:#fff;stroke-width:20px;fill:#fff">Lockers</text><text x="546.8" y="2764.6" font-size="75" textLength="193.3" lengthAdjust="spacingAndGlyphs" style="stroke:#fff;stroke-width:20px;fill:#fff">Forge</text><text x="269.7" y="3001.4" font-size="74" textLength="143.9" lengthAdjust="spacingAndGlyphs" style="stroke:#fff;stroke-width:20px;fill:#fff">Fuel</text><text x="241.8" y="3093.2" font-size="74" textLength="199.6" lengthAdjust="spacingAndGlyphs" style="stroke:#fff;stroke-width:20px;fill:#fff">Room</text></g>
<rect x="1766" y="2228" width="238" height="226" fill="#fff"/>
<polygon class="halo" points="1315.8,3023.4 1432.6,3022.6 1438.2,3365.7 1321.4,3368.9"/>
<polygon class="halo" points="1457.5,3028.2 1496.2,3029.0 1501.0,3352.8 1460.0,3356.8"/>
<polygon class="halo" points="858.5,3473.2 1310.5,3484.3 1315.0,3597.3 863.0,3599.5"/>
<polygon class="halo" points="778.0,2592.0 804.0,2590.0 804.0,2570.8 975.4,2572.0 1053.7,2616.3 1070.8,2628.5 1053.7,2643.2 975.4,2680.0 804.0,2677.0 779.0,2662.0"/>
<polygon class="halo" points="869.3,2532.6 897.1,2532.6 897.1,2557.4 869.3,2557.4"/>
<polygon class="halo" points="564.0,3044.3 800.0,3045.8 800.0,3139.0 564.0,3144.0"/>
<polygon class="halo" points="868.0,3756.0 1646.0,3756.0 1646.0,3822.0 868.0,3822.0"/>
<rect class="halo" x="-31.0" y="-13.0" width="62.0" height="26.0" transform="translate(223.6 3171.9)rotate(-2.0)"/>
<rect class="halo" x="-31.0" y="-16.0" width="62.0" height="32.0" transform="translate(223.6 3212.4)rotate(1.0)"/>
<rect class="halo" x="-12.0" y="-25.0" width="24.0" height="50.0" transform="translate(287.4 3203.6)rotate(10.0)"/>
<rect class="halo" x="-24.0" y="-11.0" width="48.0" height="22.0" transform="translate(229.5 3257.1)rotate(-20.0)"/>
<rect class="halo" x="-21.0" y="-10.0" width="42.0" height="20.0" transform="translate(310.0 3276.2)rotate(22.0)"/>
<rect class="halo" x="-29.0" y="-12.5" width="58.0" height="25.0" transform="translate(220.5 3301.9)rotate(2.0)"/>
<rect class="halo" x="-21.5" y="-9.5" width="43.0" height="19.0" transform="translate(224.8 3316.7)rotate(8.0)"/>
<rect class="halo" x="-26.5" y="-10.5" width="53.0" height="21.0" transform="translate(219.5 3336.9)rotate(5.0)"/>
<rect class="halo" x="-26.0" y="-9.5" width="52.0" height="19.0" transform="translate(215.2 3356.0)rotate(1.0)"/>
<rect class="halo" x="-26.0" y="-9.0" width="52.0" height="18.0" transform="translate(215.2 3375.7)rotate(0.0)"/>
<rect class="halo" x="-29.0" y="-9.0" width="58.0" height="18.0" transform="translate(217.0 3400.5)rotate(-1.0)"/>
<rect class="halo" x="-26.0" y="-8.5" width="52.0" height="17.0" transform="translate(215.2 3419.0)rotate(0.0)"/>
<rect class="halo" x="-26.0" y="-11.0" width="52.0" height="22.0" transform="translate(214.0 3440.0)rotate(1.0)"/>
<rect class="halo" x="-26.5" y="-12.0" width="53.0" height="24.0" transform="translate(293.3 3310.7)rotate(3.0)"/>
<rect class="halo" x="-27.5" y="-10.0" width="55.0" height="20.0" transform="translate(291.0 3330.5)rotate(3.0)"/>
<rect class="halo" x="-36.5" y="-12.0" width="73.0" height="24.0" transform="translate(295.0 3353.6)rotate(1.0)"/>
<rect class="halo" x="-29.0" y="-9.0" width="58.0" height="18.0" transform="translate(289.5 3374.3)rotate(0.0)"/>
<rect class="halo" x="-32.5" y="-10.5" width="65.0" height="21.0" transform="translate(292.0 3395.2)rotate(-2.0)"/>
<rect class="halo" x="-26.0" y="-10.5" width="52.0" height="21.0" transform="translate(280.7 3416.7)rotate(0.0)"/>
<rect class="halo" x="-25.0" y="-9.5" width="50.0" height="19.0" transform="translate(292.6 3431.0)rotate(-4.0)"/>
<rect class="halo" x="-28.5" y="-11.0" width="57.0" height="22.0" transform="translate(282.0 3447.0)rotate(2.0)"/>
<rect class="halo" x="-11.0" y="-20.0" width="22.0" height="40.0" transform="translate(352.9 3420.2)rotate(22.0)"/>
<rect class="halo" x="-11.0" y="-23.0" width="22.0" height="46.0" transform="translate(388.6 3434.5)rotate(5.0)"/>
<rect class="halo" x="186.5" y="2689.8" width="115.8" height="114.1"/>
<rect class="halo" x="316.3" y="2689.0" width="87.7" height="106.7"/>
<rect class="halo" x="187.4" y="2805.6" width="116.5" height="110.8"/>
<rect class="halo" x="2018.0" y="3495.0" width="84.0" height="37.0"/>
<rect class="halo" x="1905.0" y="3606.0" width="29.0" height="79.0"/>
<rect class="halo" x="1905.0" y="3717.0" width="180.0" height="105.0"/>
<rect class="halo" x="2124.0" y="3746.0" width="89.0" height="59.0"/>
<circle class="halo" cx="2164" cy="3697" r="25"/>
<circle class="halo" cx="1361.5" cy="3542.8" r="27.5"/>
<circle class="halo" cx="1257.3" cy="3646" r="30"/>
<circle class="halo" cx="717.5" cy="2538.5" r="25"/>
<circle class="halo" cx="669.5" cy="3614.6" r="18"/>
<g clip-path="url(#cmf)"><path d="M810.0 2111.0 L973.0 2110.0 L973.0 2163.0 L2230.0 2169.0 L2227.0 2112.0 L2303.0 2114.0 L2305.0 2166.0 L2351.0 2166.0 L2352.0 2233.0 L2302.0 2233.0 L2302.0 2566.0 L2350.0 2569.0 L2352.0 2622.0 L2428.0 2622.0 L2438.3 2624.0 L2447.3 2629.7 L2454.0 2638.5 L2457.5 2649.3 L2457.5 2660.7 L2454.0 2671.5 L2447.3 2680.3 L2438.3 2686.0 L2428.0 2688.0 L2408.0 2688.0 L2406.0 2792.0 L2372.0 2800.0 L2372.0 2913.0 L2411.0 2913.0 L2411.0 3021.0 L2432.0 3021.0 L2442.6 3023.2 L2451.9 3029.5 L2458.8 3039.2 L2462.5 3051.2 L2462.5 3063.8 L2458.8 3075.8 L2451.9 3085.5 L2442.6 3091.8 L2432.0 3094.0 L2350.0 3096.0 L2350.0 3141.0 L2302.0 3141.0 L2302.0 3709.0 L2347.0 3709.0 L2347.0 3936.0 L1664.0 3936.0 L1660.0 3899.0 L818.0 3893.0 L746.0 3824.0 L167.0 3825.0 L167.0 3775.0 L117.0 3772.0 L117.0 3711.0 L61.0 3709.0 L58.0 3364.0 L105.0 3363.0 L105.0 3196.0 L56.0 3196.0 L56.0 3135.0 L160.0 3133.0 L160.0 3027.0 L56.0 3027.0 L56.0 2959.0 L122.0 2959.0 L116.0 2627.0 L461.0 2630.0 L808.0 2288.0ZM862.0 2354.0 L1652.0 2352.0 L2000.0 2686.0 L1998.0 3466.0 L1647.0 3822.0 L865.0 3822.0 L522.0 3495.0 L522.0 2686.0ZM1680.0 2227.0 L2233.0 2227.0 L2233.0 2680.0 L2015.0 2680.0 L1680.0 2359.0ZM2025.0 2697.0 L2347.0 2697.0 L2347.0 3024.0 L2233.0 3024.0 L2237.0 3470.0 L2022.0 3470.0ZM1990.0 3495.0 L2233.0 3495.0 L2230.0 3822.0 L1902.0 3822.0 L1902.0 3585.0ZM1877.0 3661.0 L1877.0 3822.0 L1670.0 3822.0 L1827.0 3661.0ZM180.0 2680.0 L497.0 2680.0 L497.0 3461.0 L180.0 3461.0ZM178.0 3492.0 L506.0 3492.0 L506.0 3709.0 L178.0 3709.0ZM862.0 2227.0 L964.0 2227.0 L964.0 2337.0 L862.0 2337.0ZM979.0 2227.0 L1083.0 2227.0 L1083.0 2337.0 L979.0 2337.0ZM1098.0 2227.0 L1196.0 2227.0 L1196.0 2337.0 L1098.0 2337.0ZM1215.0 2227.0 L1312.0 2227.0 L1312.0 2337.0 L1215.0 2337.0ZM1326.0 2227.0 L1426.0 2227.0 L1426.0 2337.0 L1326.0 2337.0ZM1445.0 2227.0 L1543.0 2227.0 L1543.0 2337.0 L1445.0 2337.0ZM1559.0 2227.0 L1665.0 2227.0 L1665.0 2337.0 L1559.0 2337.0Z" fill="#a6a6a6" fill-rule="evenodd" transform="translate(17 16)"/>
<polygon points="2025.0,3018.0 2125.0,3018.0 2125.0,3041.0 2025.0,3041.0" fill="#a6a6a6" transform="translate(14 14)"/>
<polygon points="1774.0,2437.0 1897.0,2443.0 1897.0,2461.0 1794.0,2459.0" fill="#a6a6a6" transform="translate(14 14)"/>
</g>
<path d="M810.0 2111.0 L973.0 2110.0 L973.0 2163.0 L2230.0 2169.0 L2227.0 2112.0 L2303.0 2114.0 L2305.0 2166.0 L2351.0 2166.0 L2352.0 2233.0 L2302.0 2233.0 L2302.0 2566.0 L2350.0 2569.0 L2352.0 2622.0 L2428.0 2622.0 L2438.3 2624.0 L2447.3 2629.7 L2454.0 2638.5 L2457.5 2649.3 L2457.5 2660.7 L2454.0 2671.5 L2447.3 2680.3 L2438.3 2686.0 L2428.0 2688.0 L2408.0 2688.0 L2406.0 2792.0 L2372.0 2800.0 L2372.0 2913.0 L2411.0 2913.0 L2411.0 3021.0 L2432.0 3021.0 L2442.6 3023.2 L2451.9 3029.5 L2458.8 3039.2 L2462.5 3051.2 L2462.5 3063.8 L2458.8 3075.8 L2451.9 3085.5 L2442.6 3091.8 L2432.0 3094.0 L2350.0 3096.0 L2350.0 3141.0 L2302.0 3141.0 L2302.0 3709.0 L2347.0 3709.0 L2347.0 3936.0 L1664.0 3936.0 L1660.0 3899.0 L818.0 3893.0 L746.0 3824.0 L167.0 3825.0 L167.0 3775.0 L117.0 3772.0 L117.0 3711.0 L61.0 3709.0 L58.0 3364.0 L105.0 3363.0 L105.0 3196.0 L56.0 3196.0 L56.0 3135.0 L160.0 3133.0 L160.0 3027.0 L56.0 3027.0 L56.0 2959.0 L122.0 2959.0 L116.0 2627.0 L461.0 2630.0 L808.0 2288.0ZM862.0 2354.0 L1652.0 2352.0 L2000.0 2686.0 L1998.0 3466.0 L1647.0 3822.0 L865.0 3822.0 L522.0 3495.0 L522.0 2686.0ZM1680.0 2227.0 L2233.0 2227.0 L2233.0 2680.0 L2015.0 2680.0 L1680.0 2359.0ZM2025.0 2697.0 L2347.0 2697.0 L2347.0 3024.0 L2233.0 3024.0 L2237.0 3470.0 L2022.0 3470.0ZM1990.0 3495.0 L2233.0 3495.0 L2230.0 3822.0 L1902.0 3822.0 L1902.0 3585.0ZM1877.0 3661.0 L1877.0 3822.0 L1670.0 3822.0 L1827.0 3661.0ZM180.0 2680.0 L497.0 2680.0 L497.0 3461.0 L180.0 3461.0ZM178.0 3492.0 L506.0 3492.0 L506.0 3709.0 L178.0 3709.0ZM862.0 2227.0 L964.0 2227.0 L964.0 2337.0 L862.0 2337.0ZM979.0 2227.0 L1083.0 2227.0 L1083.0 2337.0 L979.0 2337.0ZM1098.0 2227.0 L1196.0 2227.0 L1196.0 2337.0 L1098.0 2337.0ZM1215.0 2227.0 L1312.0 2227.0 L1312.0 2337.0 L1215.0 2337.0ZM1326.0 2227.0 L1426.0 2227.0 L1426.0 2337.0 L1326.0 2337.0ZM1445.0 2227.0 L1543.0 2227.0 L1543.0 2337.0 L1445.0 2337.0ZM1559.0 2227.0 L1665.0 2227.0 L1665.0 2337.0 L1559.0 2337.0Z" fill="url(#hatch)" fill-rule="evenodd" stroke="#0a0a0a" stroke-width="8" stroke-linejoin="round"/>
<polygon points="2025.0,3018.0 2125.0,3018.0 2125.0,3041.0 2025.0,3041.0" fill="url(#hatch)" stroke="#0a0a0a" stroke-width="5" stroke-linejoin="round"/>
<polygon points="1774.0,2437.0 1897.0,2443.0 1897.0,2461.0 1794.0,2459.0" fill="url(#hatch)" stroke="#0a0a0a" stroke-width="5" stroke-linejoin="round"/>
<polygon class="f" points="884.0,2329.0 949.0,2329.0 949.0,2360.0 884.0,2360.0"/>
<polygon class="f" points="998.0,2329.0 1065.0,2329.0 1065.0,2360.0 998.0,2360.0"/>
<polygon class="f" points="1115.0,2329.0 1183.0,2329.0 1183.0,2360.0 1115.0,2360.0"/>
<polygon class="f" points="1232.0,2329.0 1293.0,2329.0 1293.0,2360.0 1232.0,2360.0"/>
<polygon class="f" points="1343.0,2329.0 1412.0,2329.0 1412.0,2360.0 1343.0,2360.0"/>
<polygon class="f" points="1458.0,2329.0 1524.0,2329.0 1524.0,2360.0 1458.0,2360.0"/>
<polygon class="f" points="1569.0,2329.0 1640.0,2329.0 1640.0,2360.0 1569.0,2360.0"/>
<polygon class="f" points="149.0,3049.0 180.0,3049.0 180.0,3130.0 149.0,3130.0"/>
<polygon class="f" points="488.0,3260.0 528.0,3260.0 528.0,3363.0 488.0,3363.0"/>
<polygon class="f" points="406.0,3461.0 478.0,3461.0 478.0,3497.0 406.0,3497.0"/>
<polygon class="f" points="1986.0,2808.0 2039.0,2808.0 2039.0,2910.0 1986.0,2910.0"/>
<polygon class="f" points="2330.0,2814.0 2375.0,2814.0 2375.0,2901.0 2330.0,2901.0"/>
<polygon class="f" points="2127.0,2669.0 2208.0,2669.0 2208.0,2702.0 2127.0,2702.0"/>
<polygon class="f" points="2129.0,3464.0 2219.0,3464.0 2219.0,3497.0 2129.0,3497.0"/>
<polygon class="f" points="1672.0,3770.0 1730.0,3722.0 1755.0,3745.0 1694.0,3795.0"/>
<g class="g"><path d="M1318 2587L1319 2790M1252 2689.7L1433 2691.2M1364.5 2662.8V2721.5M1396.3 2645.7V2741.1M1317 2642A48 48 0 0 0 1317 2738M860.6 2768.0A151 151 0 0 1 903.0 2782.2M918.8 2791.5A151 151 0 0 1 950.1 2819.6M956.6 2827.9A151 151 0 0 1 974.4 2860.1M975.4 2970.8A151 151 0 0 1 935.4 3028.9M925.3 3037.3A151 151 0 0 1 921.0 3040.4M914.4 3044.8A151 151 0 0 1 909.9 3047.5M898.2 3053.6A151 151 0 0 1 842.3 3067.5M812.5 2803.8A115 115 0 0 1 838.4 2801.8M852.4 2803.1A115 115 0 0 1 856.3 2803.8M881.2 2811.6A115 115 0 0 1 934.0 2859.2M934.0 2974.2A115 115 0 0 1 914.3 2999.4M903.6 3008.5A115 115 0 0 1 900.4 3010.9M888.4 3018.2A115 115 0 0 1 850.4 3030.6M831.7 2762.5L834.5 2772L851 2773.6L854 2766.7M851 3027.8L848.3 3018L834.4 3020.8L831.7 3033.3L815 3036M858 2834.7V2902A12.5 12.5 0 0 0 858 2932V2994.4M862 2861L915 2916.7L865 2970.8M910.8 2916.7L1024.7 2920.8M924.7 2884.7V2945.8M941.4 2875V2961M972 2888.9V2938.9M987.2 2872V2957M1027 3096V3224M1043.9 3095V3110M1043.9 3127L1168 3132.5L1239 3194.7M1029 3153H1112L1151 3166L1227 3239.8M747.7 3491V3513L772 3539.7L747.7 3564V3590.7M772 3539.7H851.9M797.4 3506.5V3564M822.2 3522V3553M1954.0 2659.0A201.4 201.4 0 0 0 1853.0 2976.0M1979.0 2684.0A173.3 173.3 0 0 0 1882.0 2959.0M1909.7 2987Q1940 3012 1984.7 3023M1880.6 3002Q1920 3042 1986 3056.4M1782 3039.7Q1880 2975 1961 2937M1772 3091L1839 3192.5M1816.7 3103.6L1836 3124.4L1822 3138.3L1804 3116ZM1769.4 3137L1789 3163.3L1732 3182.8ZM1920.8 3246.7L1923.6 3260.6L1911 3271.7L1894.4 3278.6L1888.9 3277.2L1884.7 3321.7M1884.7 3330L1961 3384M1941.7 3339.7L1979 3371.7M1923.6 3288.3L1905.6 3312M1943 3289.7L1972.2 3307.8L1958.3 3349.4L1943 3341M1823.2 2535.7L1799.2 2520.2L1783.7 2527.1L1779.4 2540.9L1790.6 2554.6L1809.5 2551.2L1826.7 2565.0L1816.4 2577.0M1837.0 2548.6L1843.0 2553.8M1749.3 2589.0L1741.6 2580.4L1747.6 2563.2L1764.8 2551.2L1807.8 2589.0M1718.3 2635.3L1732.1 2611.2L1777.7 2638.7M1702.0 2644.7L1747.6 2671.4L1759.6 2651.6L1741.6 2637.0M1690.0 2668.8L1677.9 2695.4M1696.0 2682.5L1729.5 2691.1M1701.1 2692.9L1695.1 2710.0M1728.7 2708.3L1720.9 2735.9L1666.7 2720.4L1663.3 2729.0M1669.3 2747.0L1659.0 2763.4L1666.7 2777.1L1689.1 2775.4M1692.5 2760.8L1714.9 2759.9L1713.2 2782.3L1720.9 2790.0M1658.2 2807.2L1659.9 2888.9M1721.8 2827.9L1679.6 2829.6L1678.8 2846.8L1665.0 2848.5M1675.3 2869.1L1699.4 2864.8L1696.0 2847.6L1713.2 2844.2L1726.9 2854.5L1725.2 2866.6L1714.9 2871.7M1725.2 2885.5L1678.8 2890.6L1673.6 2897.0L1673.6 2910.0M1693.0 2927.2L1722.2 2921.7L1726.4 2939.7L1695.8 2949.4L1697.2 2989.7M1723.6 2959.2L1731.9 2986.9L1701.4 3005.0" style="stroke-width:8.8"/>
<path d="M883.3 3713.6L884.7 3748.3M937.5 3712.2L912.5 3713.6V3724.7L933.3 3727.5M925 3744.2H938.9L941.7 3740M997.2 3716.4L973.6 3731.7L969.4 3733V3749.7M987.5 3726.1L997.2 3748.3M1015.3 3717.8L1016.7 3744.2M1029.2 3723.3L1062.5 3722V3744.2M1079.2 3720.6L1080 3744.2M1141.7 3719.2L1166.7 3716.4M1141.7 3749.7V3735.8L1180.6 3731.7M1179.2 3717.8L1180.6 3749.7M1191.7 3719.2L1200 3735.8M1211 3719.2L1200.6 3735.8V3755.3M1232.2 3746.3L1239.8 3728L1233.7 3721.9L1271.7 3718.9L1267.2 3744.8M1294.5 3718.9L1311.3 3723.5L1314.3 3735.6L1303.7 3744.8M1315.8 3740.2L1337.1 3738.7M1320.4 3718.9L1360 3717.4L1341.7 3729.5L1353.9 3740.2M1391.9 3721.9L1388.8 3746.3H1405.6M1417.8 3717.4L1419.3 3747.8M1434.5 3717.4L1436 3747.8M1436 3735.6H1446.7M1455.8 3746.3L1463.4 3744.8L1455.8 3729.5L1466.4 3718.9L1478.6 3723.5L1483.2 3735.6L1478.6 3744.8M1513.6 3720.4L1496.8 3746.3M1522.7 3725L1527.3 3729.5M1519.7 3741.7L1539.4 3740.2L1542.5 3732.6L1563.8 3731.1M1572.9 3718.9L1574.4 3744.8M1588.1 3721.9L1618.5 3720.4L1615.5 3738.7L1601.8 3746.3L1589.6 3744.8Z" style="stroke-width:7"/>
<path d="M1639.2 2372.4L1628.9 2381.8M1621.2 2392.1L1634.9 2405.0L1647.0 2387.0L1659.9 2383.5L1668.5 2394.7L1666.7 2406.7L1653.0 2411.9M1687.4 2406.7L1669.3 2426.5L1685.7 2441.1L1686.5 2451.5L1673.6 2449.7M1689.1 2427.4L1699.4 2432.5M1718.3 2436.0L1722.6 2442.9L1706.3 2453.2L1703.7 2461.8L1713.2 2470.4L1721.8 2468.7M1733.8 2492.7L1745.9 2503.1L1747.6 2491.0L1759.6 2484.1L1773.4 2489.3L1777.7 2501.3L1763.1 2516.8" style="stroke-width:6"/>
<circle cx="1447.7" cy="2692.2" r="11.5" style="stroke-width:8"/>
<circle cx="805.3" cy="2763.3" r="6.5" style="stroke-width:8"/>
<circle cx="819.2" cy="3069.4" r="6.5" style="stroke-width:8"/>
<circle cx="814.0" cy="3036.0" r="5.0" style="stroke-width:8"/>
<circle cx="1078.0" cy="3199.0" r="14.5" style="stroke-width:8"/>
<circle cx="1751.4" cy="3061.9" r="31.5" style="stroke-width:8"/>
<circle cx="1849.0" cy="3223.0" r="25.5" style="stroke-width:8"/>
<circle cx="1926.4" cy="3318.9" r="7.0" style="stroke-width:7"/>
<circle cx="1984.7" cy="3339.7" r="7.0" style="stroke-width:7"/>
<circle cx="1739.0" cy="2470.4" r="5.5" style="stroke-width:6"/>
<circle cx="1775.1" cy="2599.4" r="9.5" style="stroke-width:8"/>
<circle cx="1105.6" cy="3730.3" r="10.0" style="stroke-width:7"/>
<circle cx="1284.5" cy="3738.1" r="5.0" style="stroke-width:7"/>
<circle cx="1361.5" cy="3740.5" r="5.0" style="stroke-width:7"/>
</g>
<g fill="#666" fill-opacity=".85">
<circle cx="1686.5" cy="2744.5" r="6.5"/>
<circle cx="1690.0" cy="2797.8" r="7.0"/>
<circle cx="1677.2" cy="2935.6" r="7.0"/>
<circle cx="904.2" cy="3742.8" r="6.0"/>
<circle cx="1044.4" cy="3740.0" r="7.0"/>
<circle cx="1401.0" cy="3734.1" r="3.5"/>
</g>
<path class="l" d="M1771.0 2241.0L1772.0 2416.0M1900.0 2244.0L1901.0 2433.0" style="stroke-width:4"/>
<path class="l" d="M1800.0 2266.0L1801.0 2408.0M1831.0 2288.0L1832.0 2394.0M1864.0 2308.0L1864.0 2372.0M1883.0 2330.0L1883.0 2349.0M1926.0 2269.0L1927.0 2416.0M1958.0 2294.0L1959.0 2380.0M1984.0 2316.0L1984.0 2358.0" style="stroke-width:5"/>
<path class="l" d="M1897.0 2452.0L1997.0 2458.0" style="stroke-width:5"/>
<path class="l" d="M2097 3008q8 -12 17 0t17 0q8 -12 17 0t17 0q8 -12 17 0t17 0q8 -12 17 0t17 0q8 -12 17 0t17 0" style="stroke-width:3.6"/>
<rect class="f" x="186.5" y="2689.8" width="115.8" height="114.1" style="stroke-width:4.5"/>
<rect class="f" x="202.2" y="2702.2" width="86.8" height="93.5" style="stroke-width:4.5"/>
<g fill="#fff" stroke="#0a0a0a" stroke-width="3.8"><ellipse cx="248.9" cy="2738.4" rx="2.9" ry="3.4" transform="rotate(46 248.9 2738.4)"/><ellipse cx="254.6" cy="2715.1" rx="4.2" ry="3.9" transform="rotate(168 254.6 2715.1)"/><ellipse cx="271.3" cy="2729.0" rx="2.2" ry="1.9" transform="rotate(12 271.3 2729.0)"/><ellipse cx="282.5" cy="2746.5" rx="3.1" ry="2.4" transform="rotate(155 282.5 2746.5)"/><ellipse cx="244.0" cy="2759.5" rx="4.9" ry="5.7" transform="rotate(155 244.0 2759.5)"/><ellipse cx="255.7" cy="2779.1" rx="2.5" ry="2.6" transform="rotate(124 255.7 2779.1)"/><ellipse cx="262.9" cy="2762.4" rx="4.2" ry="3.9" transform="rotate(159 262.9 2762.4)"/><ellipse cx="211.0" cy="2778.4" rx="3.1" ry="3.2" transform="rotate(1 211.0 2778.4)"/><ellipse cx="241.8" cy="2782.1" rx="5.5" ry="5.9" transform="rotate(71 241.8 2782.1)"/><ellipse cx="217.9" cy="2721.5" rx="6.1" ry="5.1" transform="rotate(68 217.9 2721.5)"/><ellipse cx="231.5" cy="2749.5" rx="4.5" ry="5.0" transform="rotate(59 231.5 2749.5)"/><ellipse cx="274.5" cy="2763.2" rx="3.8" ry="4.3" transform="rotate(105 274.5 2763.2)"/><ellipse cx="270.0" cy="2785.8" rx="6.1" ry="5.5" transform="rotate(53 270.0 2785.8)"/><ellipse cx="221.8" cy="2776.8" rx="5.2" ry="4.2" transform="rotate(47 221.8 2776.8)"/><ellipse cx="230.2" cy="2714.8" rx="4.0" ry="3.6" transform="rotate(37 230.2 2714.8)"/><ellipse cx="279.4" cy="2717.8" rx="5.9" ry="5.1" transform="rotate(82 279.4 2717.8)"/><ellipse cx="239.4" cy="2722.3" rx="4.9" ry="4.7" transform="rotate(124 239.4 2722.3)"/><ellipse cx="214.4" cy="2757.0" rx="3.8" ry="2.8" transform="rotate(124 214.4 2757.0)"/><ellipse cx="222.6" cy="2741.3" rx="2.5" ry="2.1" transform="rotate(161 222.6 2741.3)"/><ellipse cx="230.8" cy="2787.7" rx="2.8" ry="3.2" transform="rotate(20 230.8 2787.7)"/><ellipse cx="212.1" cy="2763.5" rx="2.0" ry="1.8" transform="rotate(1 212.1 2763.5)"/><ellipse cx="232.8" cy="2738.3" rx="4.9" ry="4.1" transform="rotate(65 232.8 2738.3)"/><ellipse cx="236.5" cy="2770.9" rx="3.6" ry="2.9" transform="rotate(155 236.5 2770.9)"/><ellipse cx="250.9" cy="2768.4" rx="2.0" ry="2.4" transform="rotate(157 250.9 2768.4)"/><ellipse cx="270.1" cy="2744.0" rx="3.5" ry="3.7" transform="rotate(152 270.1 2744.0)"/><ellipse cx="268.5" cy="2712.3" rx="3.7" ry="2.9" transform="rotate(75 268.5 2712.3)"/><ellipse cx="264.3" cy="2721.7" rx="2.0" ry="2.0" transform="rotate(100 264.3 2721.7)"/><ellipse cx="257.6" cy="2751.0" rx="3.7" ry="3.0" transform="rotate(100 257.6 2751.0)"/><ellipse cx="248.2" cy="2774.7" rx="2.7" ry="2.7" transform="rotate(9 248.2 2774.7)"/><ellipse cx="213.1" cy="2787.9" rx="2.6" ry="2.6" transform="rotate(106 213.1 2787.9)"/><ellipse cx="261.1" cy="2739.6" rx="4.9" ry="4.2" transform="rotate(50 261.1 2739.6)"/><ellipse cx="239.9" cy="2742.8" rx="2.7" ry="2.2" transform="rotate(35 239.9 2742.8)"/><ellipse cx="228.2" cy="2724.4" rx="2.9" ry="2.9" transform="rotate(48 228.2 2724.4)"/><ellipse cx="222.4" cy="2765.5" rx="2.9" ry="2.6" transform="rotate(100 222.4 2765.5)"/><ellipse cx="251.9" cy="2786.0" rx="2.8" ry="3.1" transform="rotate(29 251.9 2786.0)"/><ellipse cx="217.8" cy="2748.5" rx="4.4" ry="3.6" transform="rotate(36 217.8 2748.5)"/><ellipse cx="250.5" cy="2725.5" rx="3.7" ry="4.2" transform="rotate(132 250.5 2725.5)"/><ellipse cx="276.4" cy="2735.1" rx="4.2" ry="4.5" transform="rotate(144 276.4 2735.1)"/><ellipse cx="211.1" cy="2714.3" rx="2.8" ry="2.5" transform="rotate(81 211.1 2714.3)"/><ellipse cx="209.4" cy="2744.7" rx="2.3" ry="2.4" transform="rotate(53 209.4 2744.7)"/><ellipse cx="248.5" cy="2746.0" rx="2.7" ry="3.2" transform="rotate(168 248.5 2746.0)"/><ellipse cx="264.2" cy="2730.4" rx="2.4" ry="2.4" transform="rotate(10 264.2 2730.4)"/><ellipse cx="220.8" cy="2733.9" rx="3.9" ry="3.5" transform="rotate(53 220.8 2733.9)"/><ellipse cx="273.6" cy="2773.2" rx="3.7" ry="4.0" transform="rotate(164 273.6 2773.2)"/><ellipse cx="221.6" cy="2708.6" rx="2.4" ry="1.8" transform="rotate(105 221.6 2708.6)"/><ellipse cx="240.5" cy="2733.4" rx="2.2" ry="2.0" transform="rotate(10 240.5 2733.4)"/><ellipse cx="265.3" cy="2753.3" rx="2.5" ry="2.2" transform="rotate(60 265.3 2753.3)"/><ellipse cx="281.7" cy="2768.5" rx="2.7" ry="2.9" transform="rotate(50 281.7 2768.5)"/><ellipse cx="280.8" cy="2782.1" rx="2.8" ry="2.7" transform="rotate(136 280.8 2782.1)"/><ellipse cx="263.3" cy="2772.4" rx="4.4" ry="3.4" transform="rotate(156 263.3 2772.4)"/><ellipse cx="223.1" cy="2786.2" rx="2.4" ry="2.6" transform="rotate(132 223.1 2786.2)"/><ellipse cx="222.7" cy="2757.0" rx="3.6" ry="2.9" transform="rotate(122 222.7 2757.0)"/><ellipse cx="243.1" cy="2711.2" rx="3.5" ry="2.6" transform="rotate(135 243.1 2711.2)"/><ellipse cx="209.7" cy="2730.7" rx="3.7" ry="2.8" transform="rotate(58 209.7 2730.7)"/><ellipse cx="228.2" cy="2770.0" rx="2.6" ry="2.8" transform="rotate(172 228.2 2770.0)"/><ellipse cx="234.6" cy="2707.6" rx="1.9" ry="2.0" transform="rotate(22 234.6 2707.6)"/><ellipse cx="212.2" cy="2738.5" rx="1.8" ry="1.8" transform="rotate(168 212.2 2738.5)"/><ellipse cx="274.6" cy="2752.5" rx="2.9" ry="2.2" transform="rotate(112 274.6 2752.5)"/><ellipse cx="281.1" cy="2708.6" rx="2.4" ry="2.1" transform="rotate(152 281.1 2708.6)"/><ellipse cx="214.8" cy="2769.6" rx="1.8" ry="1.9" transform="rotate(21 214.8 2769.6)"/></g><g fill="#0a0a0a"><circle cx="277.9" cy="2774.5" r="2.0"/><circle cx="213.2" cy="2779.1" r="2.4"/><circle cx="274.7" cy="2786.8" r="2.2"/><circle cx="244.9" cy="2774.7" r="1.7"/><circle cx="272.3" cy="2732.5" r="2.0"/><circle cx="275.0" cy="2706.8" r="1.9"/><circle cx="270.3" cy="2740.6" r="2.5"/><circle cx="262.7" cy="2725.7" r="2.0"/><circle cx="234.2" cy="2762.8" r="2.3"/><circle cx="245.8" cy="2712.7" r="2.4"/><circle cx="220.3" cy="2760.3" r="2.4"/><circle cx="242.3" cy="2710.5" r="2.1"/><circle cx="214.0" cy="2720.9" r="1.7"/><circle cx="219.7" cy="2755.6" r="2.3"/><circle cx="241.0" cy="2787.7" r="1.6"/><circle cx="232.2" cy="2733.8" r="2.1"/><circle cx="258.9" cy="2729.8" r="2.0"/><circle cx="236.3" cy="2735.3" r="1.6"/><circle cx="265.1" cy="2708.6" r="2.0"/><circle cx="224.0" cy="2742.0" r="2.3"/><circle cx="269.1" cy="2780.5" r="2.2"/><circle cx="228.6" cy="2707.0" r="1.7"/><circle cx="275.9" cy="2738.8" r="1.9"/><circle cx="234.0" cy="2734.9" r="1.7"/><circle cx="228.3" cy="2746.4" r="2.0"/><circle cx="210.9" cy="2715.8" r="1.5"/><circle cx="243.1" cy="2761.5" r="2.5"/><circle cx="237.7" cy="2758.0" r="2.4"/><circle cx="248.4" cy="2752.3" r="1.7"/><circle cx="259.9" cy="2768.4" r="1.8"/></g>
<rect class="f" x="316.3" y="2689.0" width="87.7" height="106.7" style="stroke-width:4.5"/>
<rect class="f" x="326.3" y="2698.1" width="62.8" height="86.0" style="stroke-width:4.5"/>
<g fill="#fff" stroke="#0a0a0a" stroke-width="3.8"><ellipse cx="369.1" cy="2761.8" rx="4.9" ry="3.8" transform="rotate(24 369.1 2761.8)"/><ellipse cx="355.9" cy="2774.5" rx="2.2" ry="2.2" transform="rotate(141 355.9 2774.5)"/><ellipse cx="376.5" cy="2714.0" rx="5.3" ry="5.0" transform="rotate(19 376.5 2714.0)"/><ellipse cx="345.4" cy="2744.2" rx="4.5" ry="3.3" transform="rotate(69 345.4 2744.2)"/><ellipse cx="334.6" cy="2721.1" rx="5.1" ry="3.9" transform="rotate(128 334.6 2721.1)"/><ellipse cx="378.5" cy="2760.6" rx="3.7" ry="2.6" transform="rotate(47 378.5 2760.6)"/><ellipse cx="340.1" cy="2706.1" rx="4.5" ry="4.7" transform="rotate(99 340.1 2706.1)"/><ellipse cx="374.1" cy="2727.0" rx="6.7" ry="6.0" transform="rotate(137 374.1 2727.0)"/><ellipse cx="359.4" cy="2753.1" rx="5.8" ry="4.9" transform="rotate(165 359.4 2753.1)"/><ellipse cx="373.5" cy="2739.7" rx="2.9" ry="3.4" transform="rotate(103 373.5 2739.7)"/><ellipse cx="382.4" cy="2705.3" rx="2.3" ry="2.1" transform="rotate(98 382.4 2705.3)"/><ellipse cx="344.3" cy="2758.3" rx="6.7" ry="4.9" transform="rotate(108 344.3 2758.3)"/><ellipse cx="336.8" cy="2771.5" rx="6.4" ry="5.7" transform="rotate(178 336.8 2771.5)"/><ellipse cx="348.8" cy="2728.1" rx="3.9" ry="3.9" transform="rotate(13 348.8 2728.1)"/><ellipse cx="383.0" cy="2743.6" rx="2.6" ry="2.1" transform="rotate(160 383.0 2743.6)"/><ellipse cx="349.9" cy="2711.8" rx="4.6" ry="3.6" transform="rotate(126 349.9 2711.8)"/><ellipse cx="379.9" cy="2752.0" rx="3.2" ry="3.2" transform="rotate(2 379.9 2752.0)"/><ellipse cx="334.5" cy="2744.4" rx="5.1" ry="4.7" transform="rotate(172 334.5 2744.4)"/><ellipse cx="366.2" cy="2773.5" rx="5.7" ry="5.9" transform="rotate(141 366.2 2773.5)"/><ellipse cx="363.8" cy="2709.2" rx="4.1" ry="4.2" transform="rotate(126 363.8 2709.2)"/><ellipse cx="363.9" cy="2736.9" rx="2.9" ry="2.1" transform="rotate(72 363.9 2736.9)"/><ellipse cx="359.4" cy="2724.0" rx="2.5" ry="2.1" transform="rotate(155 359.4 2724.0)"/><ellipse cx="364.1" cy="2730.3" rx="2.7" ry="2.5" transform="rotate(155 364.1 2730.3)"/><ellipse cx="340.3" cy="2731.8" rx="3.1" ry="2.4" transform="rotate(38 340.3 2731.8)"/><ellipse cx="334.7" cy="2762.2" rx="2.0" ry="2.0" transform="rotate(14 334.7 2762.2)"/><ellipse cx="355.2" cy="2764.9" rx="3.1" ry="3.3" transform="rotate(71 355.2 2764.9)"/><ellipse cx="348.3" cy="2772.1" rx="2.6" ry="2.5" transform="rotate(105 348.3 2772.1)"/><ellipse cx="354.5" cy="2736.9" rx="4.4" ry="3.8" transform="rotate(132 354.5 2736.9)"/><ellipse cx="380.0" cy="2772.8" rx="3.8" ry="3.7" transform="rotate(104 380.0 2772.8)"/><ellipse cx="370.2" cy="2748.6" rx="4.6" ry="3.8" transform="rotate(107 370.2 2748.6)"/><ellipse cx="345.1" cy="2778.0" rx="1.9" ry="2.0" transform="rotate(148 345.1 2778.0)"/><ellipse cx="332.8" cy="2754.0" rx="1.9" ry="1.9" transform="rotate(76 332.8 2754.0)"/><ellipse cx="331.8" cy="2731.6" rx="2.5" ry="2.2" transform="rotate(93 331.8 2731.6)"/><ellipse cx="364.5" cy="2719.0" rx="3.4" ry="3.0" transform="rotate(21 364.5 2719.0)"/><ellipse cx="343.3" cy="2718.5" rx="3.0" ry="2.8" transform="rotate(30 343.3 2718.5)"/><ellipse cx="331.6" cy="2706.1" rx="2.4" ry="2.1" transform="rotate(112 331.6 2706.1)"/><ellipse cx="354.2" cy="2720.0" rx="2.1" ry="2.1" transform="rotate(144 354.2 2720.0)"/><ellipse cx="380.2" cy="2735.6" rx="2.5" ry="2.8" transform="rotate(53 380.2 2735.6)"/><ellipse cx="382.5" cy="2719.8" rx="2.2" ry="2.3" transform="rotate(33 382.5 2719.8)"/><ellipse cx="353.1" cy="2745.2" rx="2.0" ry="2.0" transform="rotate(80 353.1 2745.2)"/><ellipse cx="348.5" cy="2703.8" rx="2.3" ry="1.7" transform="rotate(12 348.5 2703.8)"/><ellipse cx="360.2" cy="2742.8" rx="2.3" ry="2.6" transform="rotate(178 360.2 2742.8)"/></g><g fill="#0a0a0a"><circle cx="351.9" cy="2750.8" r="2.0"/><circle cx="357.5" cy="2715.3" r="1.6"/><circle cx="354.7" cy="2708.4" r="2.1"/><circle cx="366.5" cy="2703.9" r="2.0"/><circle cx="342.0" cy="2732.1" r="2.5"/><circle cx="341.2" cy="2761.5" r="2.0"/><circle cx="358.5" cy="2705.3" r="1.6"/><circle cx="385.0" cy="2720.6" r="2.3"/><circle cx="365.1" cy="2727.8" r="2.4"/><circle cx="371.1" cy="2778.2" r="2.2"/><circle cx="358.6" cy="2725.4" r="2.0"/><circle cx="355.1" cy="2703.4" r="1.9"/><circle cx="382.6" cy="2720.7" r="1.7"/><circle cx="363.7" cy="2754.1" r="1.7"/><circle cx="381.1" cy="2725.5" r="1.8"/><circle cx="372.5" cy="2725.2" r="1.6"/><circle cx="343.6" cy="2722.6" r="2.5"/><circle cx="380.0" cy="2740.9" r="2.2"/><circle cx="364.4" cy="2703.1" r="2.3"/><circle cx="338.4" cy="2718.3" r="1.8"/><circle cx="355.5" cy="2729.7" r="2.1"/><circle cx="376.9" cy="2749.5" r="2.4"/><circle cx="357.6" cy="2756.3" r="2.5"/><circle cx="334.6" cy="2738.1" r="2.1"/><circle cx="355.0" cy="2747.2" r="1.6"/><circle cx="369.7" cy="2768.9" r="2.1"/><circle cx="375.9" cy="2776.2" r="1.9"/><circle cx="340.4" cy="2706.3" r="1.8"/><circle cx="367.7" cy="2731.8" r="2.6"/><circle cx="368.7" cy="2707.7" r="2.0"/></g>
<rect class="f" x="187.4" y="2805.6" width="116.5" height="110.8" style="stroke-width:4.5"/>
<rect class="f" x="198.1" y="2813.0" width="91.8" height="91.8" style="stroke-width:4.5"/>
<g fill="#fff" stroke="#0a0a0a" stroke-width="3.8"><ellipse cx="280.7" cy="2829.2" rx="3.2" ry="3.3" transform="rotate(0 280.7 2829.2)"/><ellipse cx="212.7" cy="2839.9" rx="5.7" ry="4.9" transform="rotate(78 212.7 2839.9)"/><ellipse cx="222.8" cy="2869.2" rx="5.6" ry="6.1" transform="rotate(24 222.8 2869.2)"/><ellipse cx="240.4" cy="2858.5" rx="3.5" ry="3.8" transform="rotate(133 240.4 2858.5)"/><ellipse cx="270.4" cy="2826.2" rx="2.8" ry="2.4" transform="rotate(147 270.4 2826.2)"/><ellipse cx="275.3" cy="2849.5" rx="3.8" ry="3.7" transform="rotate(91 275.3 2849.5)"/><ellipse cx="224.6" cy="2898.4" rx="2.4" ry="2.7" transform="rotate(27 224.6 2898.4)"/><ellipse cx="253.7" cy="2849.0" rx="2.4" ry="2.5" transform="rotate(6 253.7 2849.0)"/><ellipse cx="255.5" cy="2889.9" rx="4.6" ry="3.9" transform="rotate(62 255.5 2889.9)"/><ellipse cx="216.7" cy="2825.6" rx="4.2" ry="4.0" transform="rotate(36 216.7 2825.6)"/><ellipse cx="243.2" cy="2836.5" rx="6.3" ry="6.5" transform="rotate(141 243.2 2836.5)"/><ellipse cx="249.8" cy="2875.7" rx="6.3" ry="4.9" transform="rotate(47 249.8 2875.7)"/><ellipse cx="228.2" cy="2848.3" rx="5.1" ry="5.9" transform="rotate(59 228.2 2848.3)"/><ellipse cx="269.2" cy="2859.2" rx="5.3" ry="5.8" transform="rotate(118 269.2 2859.2)"/><ellipse cx="211.0" cy="2890.0" rx="3.9" ry="4.5" transform="rotate(26 211.0 2890.0)"/><ellipse cx="259.5" cy="2837.3" rx="3.6" ry="3.9" transform="rotate(34 259.5 2837.3)"/><ellipse cx="205.3" cy="2846.5" rx="3.0" ry="2.5" transform="rotate(13 205.3 2846.5)"/><ellipse cx="205.6" cy="2879.7" rx="3.1" ry="3.7" transform="rotate(125 205.6 2879.7)"/><ellipse cx="218.1" cy="2853.8" rx="3.7" ry="3.2" transform="rotate(32 218.1 2853.8)"/><ellipse cx="233.2" cy="2882.6" rx="4.8" ry="3.5" transform="rotate(55 233.2 2882.6)"/><ellipse cx="204.9" cy="2829.8" rx="2.6" ry="2.0" transform="rotate(36 204.9 2829.8)"/><ellipse cx="280.4" cy="2819.9" rx="3.9" ry="3.3" transform="rotate(35 280.4 2819.9)"/><ellipse cx="222.5" cy="2886.7" rx="5.3" ry="4.5" transform="rotate(93 222.5 2886.7)"/><ellipse cx="281.7" cy="2879.9" rx="2.2" ry="1.9" transform="rotate(136 281.7 2879.9)"/><ellipse cx="206.6" cy="2867.5" rx="5.3" ry="4.4" transform="rotate(170 206.6 2867.5)"/><ellipse cx="271.3" cy="2834.9" rx="3.7" ry="2.9" transform="rotate(86 271.3 2834.9)"/><ellipse cx="233.2" cy="2895.1" rx="3.3" ry="3.9" transform="rotate(59 233.2 2895.1)"/><ellipse cx="266.0" cy="2881.9" rx="3.6" ry="3.2" transform="rotate(31 266.0 2881.9)"/><ellipse cx="241.0" cy="2888.6" rx="2.5" ry="2.5" transform="rotate(121 241.0 2888.6)"/><ellipse cx="230.4" cy="2860.5" rx="3.4" ry="3.2" transform="rotate(37 230.4 2860.5)"/><ellipse cx="261.8" cy="2846.7" rx="2.7" ry="2.0" transform="rotate(58 261.8 2846.7)"/><ellipse cx="227.6" cy="2833.2" rx="3.2" ry="2.9" transform="rotate(3 227.6 2833.2)"/><ellipse cx="280.5" cy="2890.5" rx="5.5" ry="5.9" transform="rotate(14 280.5 2890.5)"/><ellipse cx="275.1" cy="2873.1" rx="6.0" ry="6.0" transform="rotate(94 275.1 2873.1)"/><ellipse cx="254.1" cy="2822.8" rx="3.1" ry="3.6" transform="rotate(143 254.1 2822.8)"/><ellipse cx="269.4" cy="2845.0" rx="2.2" ry="2.3" transform="rotate(41 269.4 2845.0)"/><ellipse cx="208.6" cy="2857.9" rx="1.9" ry="2.3" transform="rotate(9 208.6 2857.9)"/><ellipse cx="261.7" cy="2866.6" rx="2.9" ry="2.9" transform="rotate(12 261.7 2866.6)"/><ellipse cx="231.7" cy="2828.0" rx="2.0" ry="2.0" transform="rotate(25 231.7 2828.0)"/><ellipse cx="261.5" cy="2897.5" rx="4.1" ry="3.9" transform="rotate(99 261.5 2897.5)"/><ellipse cx="242.6" cy="2824.2" rx="3.0" ry="3.5" transform="rotate(121 242.6 2824.2)"/><ellipse cx="269.8" cy="2889.4" rx="2.8" ry="2.5" transform="rotate(21 269.8 2889.4)"/><ellipse cx="246.8" cy="2865.2" rx="2.4" ry="2.2" transform="rotate(105 246.8 2865.2)"/><ellipse cx="215.1" cy="2897.9" rx="2.4" ry="2.6" transform="rotate(104 215.1 2897.9)"/><ellipse cx="227.5" cy="2820.8" rx="3.8" ry="3.2" transform="rotate(20 227.5 2820.8)"/><ellipse cx="280.8" cy="2855.2" rx="2.3" ry="2.4" transform="rotate(57 280.8 2855.2)"/><ellipse cx="249.5" cy="2857.1" rx="2.0" ry="2.2" transform="rotate(109 249.5 2857.1)"/><ellipse cx="260.9" cy="2829.0" rx="2.5" ry="2.9" transform="rotate(92 260.9 2829.0)"/><ellipse cx="232.5" cy="2868.1" rx="2.0" ry="2.1" transform="rotate(27 232.5 2868.1)"/><ellipse cx="279.8" cy="2863.8" rx="2.8" ry="3.2" transform="rotate(170 279.8 2863.8)"/><ellipse cx="220.7" cy="2833.9" rx="2.1" ry="2.4" transform="rotate(74 220.7 2833.9)"/><ellipse cx="205.9" cy="2820.3" rx="2.8" ry="2.3" transform="rotate(87 205.9 2820.3)"/><ellipse cx="247.1" cy="2851.7" rx="2.2" ry="2.4" transform="rotate(85 247.1 2851.7)"/><ellipse cx="281.0" cy="2839.1" rx="5.0" ry="4.8" transform="rotate(144 281.0 2839.1)"/><ellipse cx="257.5" cy="2857.4" rx="2.3" ry="2.2" transform="rotate(21 257.5 2857.4)"/><ellipse cx="237.6" cy="2875.3" rx="2.9" ry="2.2" transform="rotate(7 237.6 2875.3)"/><ellipse cx="270.6" cy="2898.2" rx="2.6" ry="2.8" transform="rotate(147 270.6 2898.2)"/><ellipse cx="248.2" cy="2896.1" rx="3.3" ry="3.2" transform="rotate(23 248.2 2896.1)"/><ellipse cx="216.9" cy="2877.4" rx="2.4" ry="2.3" transform="rotate(2 216.9 2877.4)"/><ellipse cx="240.2" cy="2847.1" rx="3.6" ry="3.2" transform="rotate(138 240.2 2847.1)"/></g><g fill="#0a0a0a"><circle cx="225.8" cy="2899.1" r="2.2"/><circle cx="254.2" cy="2898.7" r="2.0"/><circle cx="215.2" cy="2844.2" r="2.5"/><circle cx="280.4" cy="2899.6" r="2.0"/><circle cx="273.8" cy="2837.5" r="2.3"/><circle cx="207.4" cy="2899.9" r="1.7"/><circle cx="282.6" cy="2879.8" r="2.5"/><circle cx="229.5" cy="2834.3" r="2.5"/><circle cx="247.6" cy="2829.1" r="2.3"/><circle cx="204.1" cy="2892.5" r="2.5"/><circle cx="264.2" cy="2833.5" r="2.2"/><circle cx="227.4" cy="2898.2" r="1.6"/><circle cx="273.4" cy="2828.1" r="2.0"/><circle cx="237.8" cy="2894.6" r="1.5"/><circle cx="259.5" cy="2833.9" r="1.9"/><circle cx="265.6" cy="2891.0" r="2.1"/><circle cx="237.1" cy="2819.1" r="1.5"/><circle cx="271.3" cy="2871.9" r="1.8"/><circle cx="256.0" cy="2835.3" r="1.5"/><circle cx="270.7" cy="2859.5" r="2.3"/><circle cx="267.4" cy="2893.5" r="1.7"/><circle cx="217.0" cy="2877.8" r="2.2"/><circle cx="276.5" cy="2851.6" r="2.4"/><circle cx="283.6" cy="2854.8" r="2.6"/><circle cx="268.5" cy="2896.6" r="2.2"/><circle cx="240.3" cy="2871.2" r="1.6"/><circle cx="234.8" cy="2840.0" r="2.2"/><circle cx="282.4" cy="2890.3" r="1.6"/><circle cx="210.7" cy="2870.5" r="1.9"/><circle cx="254.7" cy="2880.3" r="2.1"/></g>
<rect class="f" x="-31.0" y="-13.0" width="62.0" height="26.0" transform="translate(223.6 3171.9)rotate(-2.0)" style="stroke-width:4.3"/>
<rect class="f" x="-31.0" y="-16.0" width="62.0" height="32.0" transform="translate(223.6 3212.4)rotate(1.0)" style="stroke-width:4.3"/>
<rect class="f" x="-12.0" y="-25.0" width="24.0" height="50.0" transform="translate(287.4 3203.6)rotate(10.0)" style="stroke-width:4.3"/>
<rect class="f" x="-24.0" y="-11.0" width="48.0" height="22.0" transform="translate(229.5 3257.1)rotate(-20.0)" style="stroke-width:4.3"/>
<rect class="f" x="-21.0" y="-10.0" width="42.0" height="20.0" transform="translate(310.0 3276.2)rotate(22.0)" style="stroke-width:4.3"/>
<rect class="f" x="-29.0" y="-12.5" width="58.0" height="25.0" transform="translate(220.5 3301.9)rotate(2.0)" style="stroke-width:4.3"/>
<rect class="f" x="-21.5" y="-9.5" width="43.0" height="19.0" transform="translate(224.8 3316.7)rotate(8.0)" style="stroke-width:4.3"/>
<rect class="f" x="-26.5" y="-10.5" width="53.0" height="21.0" transform="translate(219.5 3336.9)rotate(5.0)" style="stroke-width:4.3"/>
<rect class="f" x="-26.0" y="-9.5" width="52.0" height="19.0" transform="translate(215.2 3356.0)rotate(1.0)" style="stroke-width:4.3"/>
<rect class="f" x="-26.0" y="-9.0" width="52.0" height="18.0" transform="translate(215.2 3375.7)rotate(0.0)" style="stroke-width:4.3"/>
<rect class="f" x="-29.0" y="-9.0" width="58.0" height="18.0" transform="translate(217.0 3400.5)rotate(-1.0)" style="stroke-width:4.3"/>
<rect class="f" x="-26.0" y="-8.5" width="52.0" height="17.0" transform="translate(215.2 3419.0)rotate(0.0)" style="stroke-width:4.3"/>
<rect class="f" x="-26.0" y="-11.0" width="52.0" height="22.0" transform="translate(214.0 3440.0)rotate(1.0)" style="stroke-width:4.3"/>
<rect class="f" x="-26.5" y="-12.0" width="53.0" height="24.0" transform="translate(293.3 3310.7)rotate(3.0)" style="stroke-width:4.3"/>
<rect class="f" x="-27.5" y="-10.0" width="55.0" height="20.0" transform="translate(291.0 3330.5)rotate(3.0)" style="stroke-width:4.3"/>
<rect class="f" x="-36.5" y="-12.0" width="73.0" height="24.0" transform="translate(295.0 3353.6)rotate(1.0)" style="stroke-width:4.3"/>
<rect class="f" x="-29.0" y="-9.0" width="58.0" height="18.0" transform="translate(289.5 3374.3)rotate(0.0)" style="stroke-width:4.3"/>
<rect class="f" x="-32.5" y="-10.5" width="65.0" height="21.0" transform="translate(292.0 3395.2)rotate(-2.0)" style="stroke-width:4.3"/>
<rect class="f" x="-26.0" y="-10.5" width="52.0" height="21.0" transform="translate(280.7 3416.7)rotate(0.0)" style="stroke-width:4.3"/>
<rect class="f" x="-25.0" y="-9.5" width="50.0" height="19.0" transform="translate(292.6 3431.0)rotate(-4.0)" style="stroke-width:4.3"/>
<rect class="f" x="-28.5" y="-11.0" width="57.0" height="22.0" transform="translate(282.0 3447.0)rotate(2.0)" style="stroke-width:4.3"/>
<rect class="f" x="-11.0" y="-20.0" width="22.0" height="40.0" transform="translate(352.9 3420.2)rotate(22.0)" style="stroke-width:4.3"/>
<rect class="f" x="-11.0" y="-23.0" width="22.0" height="46.0" transform="translate(388.6 3434.5)rotate(5.0)" style="stroke-width:4.3"/>
<path class="f" d="M458.6 2792.5L804 2793L806 2876.4H790.5L791.4 2969.4H800.6L803 3035L458.6 3039L456 2964H447.5L448.6 2860H458Z" style="stroke-width:5"/>
<path class="f" d="M515.7 2840.7H683.6L685 2873L673 2878V2951L687 2955V2990.7H512V2964H448.6V2860L515.7 2858Z" style="stroke-width:5.6"/>
<rect class="f" x="472.9" y="2879.3" width="82.1" height="66.7" style="stroke-width:5.4"/>
<path class="t" d="M470 2802H795M466 2806V2850M470 3030H700M740 3026H793L795 2985M466 2975V3026M798 2810V2868M780 2884V2962" stroke-dasharray="26 9"/>
<path class="t" d="M524 2848H676M680 2850V2870M666 2884V2946M680 2962V2984M520 2984H676M456 2868H508M456 2957H506M481 2886H547V2939H481Z" stroke-dasharray="18 7"/>
<polygon class="f" points="564.0,3044.3 800.0,3045.8 800.0,3139.0 565.0,3144.0"/>
<polygon class="f" points="576.0,3057.0 783.0,3057.0 784.0,3128.0 577.0,3131.0" style="stroke-width:3.5"/>
<rect class="f" x="-5.5" y="-20.0" width="11.0" height="40.0" transform="translate(589.0 3092.0)rotate(8.0)" style="stroke-width:3.2"/>
<rect class="f" x="-6.0" y="-18.0" width="12.0" height="36.0" transform="translate(603.0 3088.0)rotate(2.0)" style="stroke-width:3.2"/>
<rect class="f" x="-5.5" y="-20.0" width="11.0" height="40.0" transform="translate(617.0 3093.0)rotate(5.0)" style="stroke-width:3.2"/>
<rect class="f" x="-2.5" y="-7.5" width="5.0" height="15.0" transform="translate(632.0 3094.0)rotate(18.0)" style="stroke-width:2.6"/>
<g fill="#fff" stroke="#0a0a0a" stroke-width="3.8"><ellipse cx="679.6" cy="3100.6" rx="1.5" ry="1.3" transform="rotate(67 679.6 3100.6)"/><ellipse cx="655.9" cy="3109.3" rx="2.2" ry="1.7" transform="rotate(143 655.9 3109.3)"/><ellipse cx="670.6" cy="3093.3" rx="2.4" ry="2.2" transform="rotate(8 670.6 3093.3)"/></g><g fill="#0a0a0a"><circle cx="695.9" cy="3106.8" r="2.5"/><circle cx="676.0" cy="3066.0" r="1.9"/><circle cx="669.9" cy="3070.7" r="2.5"/><circle cx="663.2" cy="3073.0" r="2.4"/><circle cx="650.5" cy="3117.8" r="2.0"/><circle cx="672.7" cy="3083.9" r="2.0"/><circle cx="653.7" cy="3066.2" r="2.5"/><circle cx="656.2" cy="3109.3" r="1.7"/></g>
<g fill="#fff" stroke="#0a0a0a" stroke-width="3.8"><ellipse cx="718.4" cy="3069.5" rx="5.7" ry="6.1" transform="rotate(167 718.4 3069.5)"/><ellipse cx="731.2" cy="3113.2" rx="5.4" ry="3.9" transform="rotate(68 731.2 3113.2)"/><ellipse cx="773.7" cy="3083.0" rx="3.6" ry="2.6" transform="rotate(37 773.7 3083.0)"/><ellipse cx="770.5" cy="3102.7" rx="4.6" ry="4.2" transform="rotate(135 770.5 3102.7)"/><ellipse cx="754.9" cy="3070.6" rx="6.3" ry="5.5" transform="rotate(45 754.9 3070.6)"/><ellipse cx="747.3" cy="3083.5" rx="5.2" ry="5.0" transform="rotate(12 747.3 3083.5)"/><ellipse cx="759.2" cy="3115.8" rx="6.3" ry="5.0" transform="rotate(160 759.2 3115.8)"/><ellipse cx="754.9" cy="3098.9" rx="4.7" ry="3.7" transform="rotate(90 754.9 3098.9)"/><ellipse cx="709.7" cy="3094.8" rx="3.2" ry="2.5" transform="rotate(88 709.7 3094.8)"/><ellipse cx="772.0" cy="3093.4" rx="2.1" ry="2.6" transform="rotate(1 772.0 3093.4)"/><ellipse cx="735.4" cy="3101.5" rx="4.5" ry="4.8" transform="rotate(152 735.4 3101.5)"/><ellipse cx="729.0" cy="3086.7" rx="5.4" ry="5.6" transform="rotate(25 729.0 3086.7)"/><ellipse cx="713.6" cy="3119.2" rx="4.2" ry="4.7" transform="rotate(147 713.6 3119.2)"/><ellipse cx="744.0" cy="3109.8" rx="2.1" ry="2.3" transform="rotate(115 744.0 3109.8)"/><ellipse cx="721.6" cy="3103.0" rx="4.3" ry="5.0" transform="rotate(161 721.6 3103.0)"/><ellipse cx="739.4" cy="3076.6" rx="2.8" ry="2.5" transform="rotate(153 739.4 3076.6)"/></g><g fill="#0a0a0a"><circle cx="742.5" cy="3074.3" r="1.8"/><circle cx="715.9" cy="3113.3" r="2.1"/><circle cx="756.2" cy="3112.0" r="2.6"/><circle cx="718.3" cy="3087.3" r="2.5"/><circle cx="761.1" cy="3086.2" r="2.2"/><circle cx="718.6" cy="3072.7" r="1.6"/><circle cx="732.5" cy="3077.2" r="2.1"/><circle cx="776.7" cy="3072.2" r="2.1"/><circle cx="768.8" cy="3098.9" r="2.1"/><circle cx="761.6" cy="3064.3" r="2.5"/><circle cx="755.5" cy="3111.4" r="2.4"/><circle cx="711.4" cy="3067.0" r="1.7"/><circle cx="741.9" cy="3119.3" r="2.5"/><circle cx="734.9" cy="3100.3" r="2.3"/></g>
<path class="f" d="M829.6 2569.3V2561Q838.6 2549 847.6 2561V2569.3"/>
<path class="f" d="M927.3 2569.3V2562Q936.3 2550 945.3 2562V2569.3"/>
<path class="f" d="M830 2677V2688Q839 2700 848 2688V2677"/>
<path class="f" d="M928 2679V2687Q937 2699 946 2687V2679"/>
<polygon class="f" points="778.0,2594.0 802.0,2591.0 802.0,2665.5 779.0,2661.5"/>
<path class="f" d="M975.4 2604L1050 2615Q1071 2618 1071 2629Q1071 2641 1050 2643.5L975.4 2650.6Z"/>
<polygon class="f" points="802.9,2569.3 975.4,2571.0 976.5,2681.0 802.9,2676.4" style="stroke-width:5"/>
<polygon class="f" points="788.0,2619.7 796.0,2618.9 795.2,2635.9 787.0,2635.8" style="stroke-width:3"/>
<rect class="f" x="814.4" y="2652.2" width="11.3" height="14.3" style="stroke-width:3"/>
<rect class="f" x="831.6" y="2650.6" width="11.9" height="13.9" style="stroke-width:3"/>
<rect class="f" x="869.3" y="2532.6" width="27.8" height="24.8"/>
<circle class="f" cx="717.5" cy="2538.5" r="22.0" style="stroke-width:5"/>
<circle class="f" cx="718.5" cy="2540.0" r="13.0" style="stroke-width:5"/>
<polygon class="f" points="1315.8,3023.4 1432.6,3022.6 1438.2,3365.7 1321.4,3368.9" style="stroke-width:4.8"/>
<polygon class="f" points="1457.5,3028.2 1496.2,3029.0 1501.0,3352.8 1460.0,3356.8" style="stroke-width:4.8"/>
<ellipse class="f" cx="1337.5" cy="3049.1" rx="9.0" ry="7.3"/>
<circle class="f" cx="1400.3" cy="3062.0" r="13.7"/>
<path class="l" d="M1405 3195L1380 3216L1357 3215M1380 3216L1404 3228" style="stroke-width:11"/>
<circle class="f" cx="1405.2" cy="3194.9" r="10.5"/>
<circle class="f" cx="1357.5" cy="3215.0" r="8.0"/>
<path d="M1405 3195L1380 3216L1357 3215M1380 3216L1404 3228" fill="none" stroke="#fff" stroke-width="3.4" stroke-linecap="butt" stroke-linejoin="round"/>
<polygon class="f" points="1339.1,3238.4 1349.6,3237.6 1352.0,3248.9 1397.1,3248.9 1397.1,3257.7 1354.4,3259.3 1353.6,3278.7 1340.7,3279.5"/>
<polygon class="f" points="1406.0,3273.8 1414.8,3276.0 1413.0,3285.1 1404.5,3283.0" style="stroke-width:3.2"/>
<rect class="f" x="1356.0" y="3288.3" width="28.2" height="49.2"/>
<polygon class="f" points="1396.3,3292.4 1418.9,3296.4 1411.6,3337.5 1391.5,3333.4"/>
<path class="f" d="M858.5 3473.2L1310.5 3484.3L1311 3506l4 3l-1 46l4 3L1315 3597.3L863 3599.5L862 3534l4-4l-4-4Z"/>
<polygon class="f" points="918.3,3502.0 933.0,3507.4 905.0,3558.8 889.5,3550.8" style="stroke-width:3.6"/>
<rect class="f" x="938.3" y="3518.9" width="17.7" height="17.7" style="stroke-width:3.4"/>
<polygon class="f" points="953.8,3553.0 961.3,3556.1 953.8,3568.5 947.1,3565.0" style="stroke-width:3"/>
<circle class="f" cx="981.7" cy="3542.8" r="12.5" style="stroke-width:3.6"/>
<path class="l" d="M965.0 3531.0L971.5 3536.6M993.7 3524.2L989.3 3532.2M981.7 3556.0L981.7 3565.0" style="stroke-width:3.2"/>
<rect class="f" x="1013.6" y="3516.2" width="39.9" height="17.8" style="stroke-width:3.6"/>
<circle class="k" cx="1024.7" cy="3525.5" r="2.4"/>
<circle class="k" cx="1035.8" cy="3525.5" r="2.4"/>
<circle class="k" cx="1045.5" cy="3525.5" r="2.4"/>
<rect class="f" x="1139.9" y="3519.8" width="19.9" height="49.6" style="stroke-width:3.8"/>
<path class="l" d="M1160 3524q6 3 0 8M1160 3554q6 3 0 8" style="stroke-width:3"/>
<path class="l" d="M1190.8 3513.0L1190.8 3524.0M1228.5 3513.0L1228.5 3524.0M1193.0 3548.6L1193.0 3559.7M1230.7 3548.6L1230.7 3559.7" style="stroke-width:7;stroke-linecap:butt"/>
<rect class="f" x="1186.4" y="3524.2" width="53.2" height="24.4" style="stroke-width:3.8"/>
<rect class="f" x="1255.1" y="3508.7" width="14.6" height="11.9" style="stroke-width:3.2"/>
<polygon class="f" points="1281.7,3507.4 1291.9,3510.0 1290.0,3518.9 1281.0,3517.0" style="stroke-width:3.2"/>
<ellipse class="f" cx="1259.5" cy="3541.9" rx="4.5" ry="3.5" style="stroke-width:3"/>
<circle class="f" cx="1286.1" cy="3544.1" r="7.5" style="stroke-width:3.4"/>
<ellipse class="f" cx="1267.0" cy="3557.4" rx="4.4" ry="3.6" style="stroke-width:3"/>
<circle class="f" cx="1284.0" cy="3529.0" r="3.0" style="stroke-width:2.6"/>
<circle class="f" cx="1361.5" cy="3542.8" r="27.5"/>
<circle class="f" cx="1257.3" cy="3646.0" r="30.0"/>
<rect class="f" x="881.7" y="3757.0" width="77.7" height="12.0" style="stroke-width:4"/>
<rect class="f" x="984.4" y="3757.0" width="91.6" height="12.0" style="stroke-width:4"/>
<rect class="f" x="1101.0" y="3757.0" width="84.0" height="12.0" style="stroke-width:4"/>
<rect class="f" x="1217.8" y="3757.0" width="86.1" height="12.0" style="stroke-width:4"/>
<rect class="f" x="1331.7" y="3757.0" width="80.5" height="12.0" style="stroke-width:4"/>
<rect class="f" x="1445.6" y="3757.0" width="88.8" height="12.0" style="stroke-width:4"/>
<rect class="f" x="1562.2" y="3757.0" width="69.5" height="12.0" style="stroke-width:4"/>
<polygon class="f" points="868.0,3766.4 1230.0,3768.5 1560.0,3762.0 1646.0,3760.5 1646.0,3822.0 868.0,3821.0" style="stroke-width:5"/>
<path class="l" d="M597.3 3551.1L590.0 3563.5" style="stroke-width:10"/>
<path d="M597.3 3551.1L590 3563.5" fill="none" stroke="#fff" stroke-width="3" stroke-linecap="round"/>
<path class="l" d="M628.3 3578.1L620.5 3591.5" style="stroke-width:10"/>
<path d="M628.3 3578.1L620.5 3591.5" fill="none" stroke="#fff" stroke-width="3" stroke-linecap="round"/>
<path class="l" d="M696.5 3640.8L688.0 3655.0" style="stroke-width:10"/>
<path d="M696.5 3640.8L688 3655" fill="none" stroke="#fff" stroke-width="3" stroke-linecap="round"/>
<path class="l" d="M728.3 3671.7L720.0 3686.5" style="stroke-width:10"/>
<path d="M728.3 3671.7L720 3686.5" fill="none" stroke="#fff" stroke-width="3" stroke-linecap="round"/>
<circle class="f" cx="669.5" cy="3614.6" r="15.5" style="stroke-width:5"/>
<circle class="f" cx="669.5" cy="3614.6" r="7.0" style="stroke-width:4.6"/>
<rect class="f" x="2018.0" y="3495.0" width="84.0" height="37.0" style="stroke-width:3.8"/>
<rect class="f" x="1905.0" y="3606.0" width="29.0" height="79.0" style="stroke-width:3.8"/>
<polygon class="f" points="1905.0,3717.0 2083.0,3715.0 2085.0,3822.0 1905.0,3822.0" style="stroke-width:3.8"/>
<path class="l" d="M1943 3719L1945 3760Q1939 3772 1944 3785L1945 3820M1957 3719L1957 3762Q1964 3774 1959 3788L1960 3820" style="stroke-width:3"/>
<circle class="f" cx="2164.0" cy="3697.0" r="25.0"/>
<polygon class="f" points="2124.0,3746.0 2212.0,3744.0 2213.0,3805.0 2124.0,3806.0"/>
</g>
<g id="labels">
<text x="292.4" y="243.4" font-size="90" textLength="411.9" lengthAdjust="spacingAndGlyphs">Mezzanine</text>
<text x="395.8" y="349.9" font-size="90" textLength="207.9" lengthAdjust="spacingAndGlyphs">Level</text>
<text x="2045.7" y="1891.8" font-size="59" textLength="424.3" lengthAdjust="spacingAndGlyphs">1 square = 5 feet</text>
<text x="163.4" y="2407.3" font-size="89" textLength="404.6" lengthAdjust="spacingAndGlyphs">Main Floor</text>
<g stroke-linejoin="round"><text x="1698.4" y="1046.8" font-size="75" textLength="283.7" lengthAdjust="spacingAndGlyphs" style="stroke:#fff;stroke-width:20px;fill:#fff">Cabinets</text></g>
<text x="761.4" y="552.0" font-size="75" textLength="547.1" lengthAdjust="spacingAndGlyphs">Upper Workshop</text>
<text x="1187.5" y="1004.4" font-size="75" textLength="160.0" lengthAdjust="spacingAndGlyphs">View</text>
<text x="1078.7" y="1095.8" font-size="75" textLength="376.0" lengthAdjust="spacingAndGlyphs">Downstairs</text>
<text x="1698.4" y="1046.8" font-size="75" textLength="283.7" lengthAdjust="spacingAndGlyphs">Cabinets</text>
<text x="1135.6" y="2436.4" font-size="76" textLength="262.0" lengthAdjust="spacingAndGlyphs">Lockers</text>
<text x="546.8" y="2764.6" font-size="75" textLength="193.3" lengthAdjust="spacingAndGlyphs">Forge</text>
<text x="269.7" y="3001.4" font-size="74" textLength="143.9" lengthAdjust="spacingAndGlyphs">Fuel</text>
<text x="241.8" y="3093.2" font-size="74" textLength="199.6" lengthAdjust="spacingAndGlyphs">Room</text>
</g>
</svg></body></html>
